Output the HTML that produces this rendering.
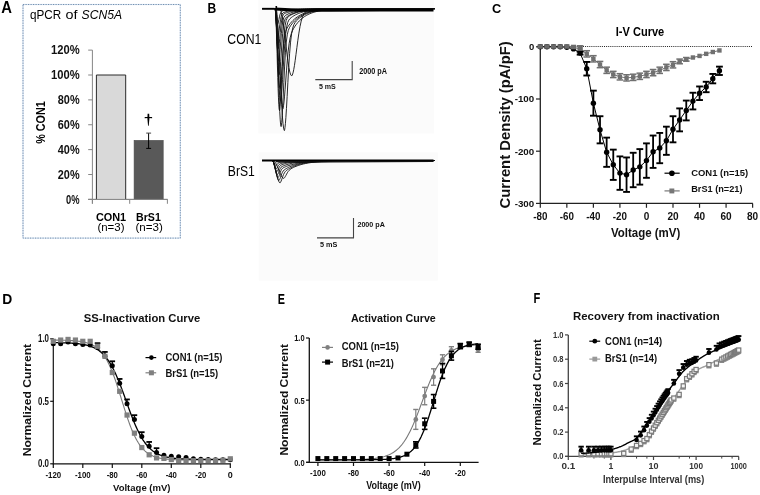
<!DOCTYPE html>
<html><head><meta charset="utf-8"><title>Figure</title>
<style>
html,body{margin:0;padding:0;background:#fff;}
body{width:760px;height:495px;overflow:hidden;font-family:"Liberation Sans",sans-serif;}
svg{display:block;will-change:transform;}
</style></head><body>
<svg width="760" height="495" viewBox="0 0 760 495">
<rect x="0" y="0" width="760" height="495" fill="#fff"/>
<text x="1.2" y="12.6" font-family="Liberation Sans" font-size="15.84" font-weight="bold" font-style="normal" fill="#000" textLength="10.7" lengthAdjust="spacingAndGlyphs" >A</text>
<rect x="23" y="4.5" width="157.3" height="233.6" fill="none" stroke="#d2e2f2" stroke-width="1.2"/>
<rect x="23" y="4.5" width="157.3" height="233.6" fill="none" stroke="#7890ad" stroke-width="1" stroke-dasharray="1.2 1.3"/>
<text x="30" y="19.2" font-family="Liberation Sans" font-size="12.06" font-weight="normal" font-style="normal" fill="#000" textLength="31.2" lengthAdjust="spacingAndGlyphs" >qPCR</text>
<text x="65.6" y="19.2" font-family="Liberation Sans" font-size="12.5" font-weight="normal" font-style="normal" fill="#000" textLength="12" lengthAdjust="spacingAndGlyphs" >of</text>
<text x="81.6" y="19.2" font-family="Liberation Sans" font-size="12.06" font-weight="normal" font-style="italic" fill="#000" textLength="40.5" lengthAdjust="spacingAndGlyphs" >SCN5A</text>
<line x1="92.4" y1="50.1" x2="92.4" y2="203.6" stroke="#868686" stroke-width="1" />
<line x1="88.2" y1="199.4" x2="92.4" y2="199.4" stroke="#868686" stroke-width="1" />
<text x="66.1" y="203.5" font-family="Liberation Sans" font-size="11.92" font-weight="bold" font-style="normal" fill="#111" textLength="13.5" lengthAdjust="spacingAndGlyphs" >0%</text>
<line x1="88.2" y1="174.52" x2="92.4" y2="174.52" stroke="#868686" stroke-width="1" />
<text x="57.8" y="178.62" font-family="Liberation Sans" font-size="11.92" font-weight="bold" font-style="normal" fill="#111" textLength="21.8" lengthAdjust="spacingAndGlyphs" >20%</text>
<line x1="88.2" y1="149.64" x2="92.4" y2="149.64" stroke="#868686" stroke-width="1" />
<text x="57.8" y="153.74" font-family="Liberation Sans" font-size="11.92" font-weight="bold" font-style="normal" fill="#111" textLength="21.8" lengthAdjust="spacingAndGlyphs" >40%</text>
<line x1="88.2" y1="124.76" x2="92.4" y2="124.76" stroke="#868686" stroke-width="1" />
<text x="57.8" y="128.86" font-family="Liberation Sans" font-size="11.92" font-weight="bold" font-style="normal" fill="#111" textLength="21.8" lengthAdjust="spacingAndGlyphs" >60%</text>
<line x1="88.2" y1="99.88" x2="92.4" y2="99.88" stroke="#868686" stroke-width="1" />
<text x="57.8" y="103.98" font-family="Liberation Sans" font-size="11.92" font-weight="bold" font-style="normal" fill="#111" textLength="21.8" lengthAdjust="spacingAndGlyphs" >80%</text>
<line x1="88.2" y1="75" x2="92.4" y2="75" stroke="#868686" stroke-width="1" />
<text x="51" y="79.1" font-family="Liberation Sans" font-size="11.92" font-weight="bold" font-style="normal" fill="#111" textLength="28.6" lengthAdjust="spacingAndGlyphs" >100%</text>
<line x1="88.2" y1="50.12" x2="92.4" y2="50.12" stroke="#868686" stroke-width="1" />
<text x="51" y="54.22" font-family="Liberation Sans" font-size="11.92" font-weight="bold" font-style="normal" fill="#111" textLength="28.6" lengthAdjust="spacingAndGlyphs" >120%</text>
<line x1="88.2" y1="199.4" x2="167.6" y2="199.4" stroke="#868686" stroke-width="1" />
<line x1="92.4" y1="199.4" x2="92.4" y2="203.8" stroke="#868686" stroke-width="1" />
<line x1="129.7" y1="199.4" x2="129.7" y2="203.8" stroke="#868686" stroke-width="1" />
<line x1="167.4" y1="199.4" x2="167.4" y2="203.8" stroke="#868686" stroke-width="1" />
<rect x="96.4" y="75" width="29.3" height="124.4" fill="#d9d9d9" stroke="none" stroke-width="1" />
<path d="M96.4 199.4 L96.4 75 L125.7 75 L125.7 199.4" stroke="#2a2a2a" stroke-width="1" fill="none" />
<rect x="134.1" y="140.4" width="29.1" height="59" fill="#595959" stroke="#4a4a4a" stroke-width="0.6" />
<line x1="88.2" y1="199.4" x2="167.6" y2="199.4" stroke="#868686" stroke-width="1" />
<line x1="148.6" y1="133.1" x2="148.6" y2="148.4" stroke="#000" stroke-width="1" />
<line x1="146.2" y1="133.1" x2="151.1" y2="133.1" stroke="#444" stroke-width="1" />
<line x1="146.2" y1="148.4" x2="151.1" y2="148.4" stroke="#000" stroke-width="1" />
<path d="M147.6 113.8 L149.2 113.8 L149.4 118.5 L148.75 125.8 L148.05 125.8 L147.4 118.5 Z" stroke="none" stroke-width="0" fill="#000" />
<path d="M144.7 116.9 Q148.4 117.3 152.1 116.9 L152.1 118.2 Q148.4 117.9 144.7 118.2 Z" stroke="none" stroke-width="0" fill="#000" />
<text transform="translate(45.3 143.7) rotate(-90)" x="0" y="0" font-family="Liberation Sans" font-size="11.92" font-weight="bold" fill="#000" textLength="42.4" lengthAdjust="spacingAndGlyphs">% CON1</text>
<text x="95.9" y="220.6" font-family="Liberation Sans" font-size="10.61" font-weight="bold" font-style="normal" fill="#000" textLength="30.3" lengthAdjust="spacingAndGlyphs" >CON1</text>
<text x="97.4" y="231.3" font-family="Liberation Sans" font-size="10.17" font-weight="normal" font-style="normal" fill="#000" textLength="27.1" lengthAdjust="spacingAndGlyphs" >(n=3)</text>
<text x="136.1" y="220.6" font-family="Liberation Sans" font-size="10.61" font-weight="bold" font-style="normal" fill="#000" textLength="24.7" lengthAdjust="spacingAndGlyphs" >BrS1</text>
<text x="135.4" y="231.3" font-family="Liberation Sans" font-size="10.17" font-weight="normal" font-style="normal" fill="#000" textLength="27.4" lengthAdjust="spacingAndGlyphs" >(n=3)</text>
<rect x="258.3" y="0" width="175.5" height="133.5" fill="#fbfbfb" stroke="none" stroke-width="1" />
<rect x="258.8" y="152.3" width="179" height="128.3" fill="#fbfbfb" stroke="none" stroke-width="1" />
<text x="207.5" y="12.6" font-family="Liberation Sans" font-size="15.41" font-weight="bold" font-style="normal" fill="#000" textLength="8.7" lengthAdjust="spacingAndGlyphs" >B</text>
<text x="227.3" y="43.9" font-family="Liberation Sans" font-size="13.95" font-weight="normal" font-style="normal" fill="#000" textLength="34" lengthAdjust="spacingAndGlyphs" >CON1</text>
<text x="227.8" y="175.9" font-family="Liberation Sans" font-size="14.1" font-weight="normal" font-style="normal" fill="#000" textLength="27" lengthAdjust="spacingAndGlyphs" >BrS1</text>
<path d="M262 8.6 L275.3 8.6 L276 10.37 L276.7 15.59 L277.4 23.94 L278.1 34.95 L278.8 47.97 L279.5 62.25 L280.2 76.95 L280.9 91.23 L281.6 104.25 L282.3 115.26 L283 123.61 L283.7 128.83 L284.4 130.6 L284.48 130.35 L284.69 129.46 L284.99 127.47 L285.4 123.72 L285.89 117.54 L286.46 108.49 L287.13 96.58 L287.87 82.51 L288.68 67.66 L289.58 53.73 L290.55 42.16 L291.59 33.68 L292.7 28.1 L293.89 24.63 L295.14 22.4 L296.47 20.76 L297.86 19.38 L299.32 18.14 L300.84 17 L302.43 15.96 L304.09 15.01 L305.81 14.15 L307.59 13.39 L309.44 12.7 L311.35 12.1 L313.32 11.57 L315.35 11.11 L317.45 10.71 L319.6 10.36 L321.82 10.06 L324.09 9.81 L326.42 9.6 L328.82 9.42 L331.27 9.27 L333.78 9.14 L336.35 9.04 L338.98 8.95 L341.66 8.88 L344.4 8.82 L435 8.6" stroke="#111" stroke-width="0.9" fill="none" />
<path d="M262 8.6 L275.3 8.6 L275.75 10.31 L276.19 15.36 L276.64 23.44 L277.08 34.08 L277.53 46.68 L277.98 60.49 L278.42 74.71 L278.87 88.52 L279.32 101.12 L279.76 111.76 L280.21 119.84 L280.65 124.89 L281.1 126.6 L281.18 126.3 L281.39 125.18 L281.69 122.51 L282.1 117.36 L282.59 108.94 L283.16 97.03 L283.83 82.42 L284.57 66.94 L285.38 52.9 L286.28 42.05 L287.25 34.82 L288.29 30.45 L289.4 27.73 L290.59 25.72 L291.84 23.98 L293.17 22.37 L294.56 20.86 L296.02 19.46 L297.54 18.16 L299.13 16.98 L300.79 15.9 L302.51 14.92 L304.29 14.05 L306.14 13.27 L308.05 12.58 L310.02 11.98 L312.05 11.45 L314.15 11 L316.3 10.6 L318.52 10.27 L320.79 9.98 L323.12 9.73 L325.52 9.53 L327.97 9.36 L330.48 9.21 L333.05 9.1 L335.68 9 L338.36 8.92 L341.1 8.85 L435 8.6" stroke="#111" stroke-width="0.9" fill="none" />
<path d="M262 8.6 L275 8.6 L275.35 10.08 L275.69 14.44 L276.04 21.43 L276.38 30.63 L276.73 41.52 L277.08 53.45 L277.42 65.75 L277.77 77.68 L278.12 88.57 L278.46 97.77 L278.81 104.76 L279.15 109.12 L279.5 110.6 L279.58 110.3 L279.79 109.15 L280.09 106.33 L280.5 100.87 L280.99 92.06 L281.56 80.09 L282.23 66.35 L282.97 53.15 L283.78 42.61 L284.68 35.58 L285.65 31.4 L286.69 28.81 L287.8 26.86 L288.99 25.12 L290.24 23.47 L291.57 21.92 L292.96 20.46 L294.42 19.1 L295.94 17.85 L297.53 16.7 L299.19 15.66 L300.91 14.72 L302.69 13.87 L304.54 13.12 L306.45 12.45 L308.42 11.87 L310.45 11.36 L312.55 10.92 L314.7 10.54 L316.92 10.21 L319.19 9.93 L321.52 9.7 L323.92 9.5 L326.37 9.33 L328.88 9.19 L331.45 9.08 L334.08 8.99 L336.76 8.91 L339.5 8.85 L435 8.6" stroke="#111" stroke-width="0.9" fill="none" />
<path d="M262 8.6 L279.5 8.6 L280.44 9.58 L281.38 12.45 L282.32 17.06 L283.25 23.13 L284.19 30.32 L285.13 38.19 L286.07 46.31 L287.01 54.18 L287.95 61.37 L288.88 67.44 L289.82 72.05 L290.76 74.92 L291.7 75.9 L291.78 75.83 L291.99 75.58 L292.29 75.01 L292.7 73.95 L293.19 72.18 L293.76 69.46 L294.43 65.65 L295.17 60.66 L295.98 54.59 L296.88 47.67 L297.85 40.34 L298.89 33.14 L300 26.6 L301.19 21.14 L302.44 16.95 L303.77 14.03 L305.16 12.15 L306.62 11.03 L308.14 10.38 L309.73 10 L311.39 9.74 L313.11 9.55 L314.89 9.39 L316.74 9.26 L318.65 9.14 L320.62 9.04 L322.65 8.96 L324.75 8.89 L326.9 8.84 L329.12 8.79 L331.39 8.75 L333.72 8.72 L336.12 8.69 L338.57 8.67 L341.08 8.66 L343.65 8.64 L346.28 8.63 L348.96 8.63 L351.7 8.62 L435 8.6" stroke="#111" stroke-width="0.9" fill="none" />
<path d="M262 8.6 L275 8.6 L275.42 9.94 L275.85 13.87 L276.27 20.17 L276.69 28.47 L277.12 38.29 L277.54 49.06 L277.96 60.14 L278.38 70.91 L278.81 80.73 L279.23 89.03 L279.65 95.33 L280.08 99.26 L280.5 100.6 L280.58 100.42 L280.79 99.69 L281.09 97.86 L281.5 94.21 L281.99 88.09 L282.56 79.21 L283.23 67.96 L283.97 55.52 L284.78 43.59 L285.68 33.76 L286.65 26.83 L287.69 22.58 L288.8 20.15 L289.99 18.67 L291.24 17.57 L292.57 16.61 L293.96 15.73 L295.42 14.92 L296.94 14.16 L298.53 13.47 L300.19 12.84 L301.91 12.28 L303.69 11.77 L305.54 11.32 L307.45 10.92 L309.42 10.57 L311.45 10.26 L313.55 9.99 L315.7 9.77 L317.92 9.57 L320.19 9.4 L322.52 9.26 L324.92 9.14 L327.37 9.04 L329.88 8.96 L332.45 8.89 L335.08 8.83 L337.76 8.79 L340.5 8.75 L435 8.6" stroke="#111" stroke-width="0.9" fill="none" />
<path d="M262 8.6 L275 8.6 L275.38 9.76 L275.77 13.18 L276.15 18.66 L276.54 25.88 L276.92 34.42 L277.31 43.78 L277.69 53.42 L278.08 62.78 L278.46 71.32 L278.85 78.54 L279.23 84.02 L279.62 87.44 L280 88.6 L280.08 88.45 L280.29 87.77 L280.59 85.91 L281 82.07 L281.49 75.58 L282.06 66.32 L282.73 54.99 L283.47 43.2 L284.28 32.84 L285.18 25.24 L286.15 20.57 L287.19 18.08 L288.3 16.73 L289.49 15.85 L290.74 15.11 L292.07 14.42 L293.46 13.79 L294.92 13.19 L296.44 12.64 L298.03 12.14 L299.69 11.69 L301.41 11.27 L303.19 10.9 L305.04 10.58 L306.95 10.29 L308.92 10.03 L310.95 9.81 L313.05 9.61 L315.2 9.45 L317.42 9.3 L319.69 9.18 L322.02 9.08 L324.42 8.99 L326.87 8.92 L329.38 8.86 L331.95 8.81 L334.58 8.77 L337.26 8.73 L340 8.71 L435 8.6" stroke="#111" stroke-width="0.9" fill="none" />
<path d="M262 8.6 L275 8.6 L275.32 9.56 L275.65 12.38 L275.97 16.9 L276.29 22.85 L276.62 29.9 L276.94 37.62 L277.26 45.58 L277.58 53.3 L277.91 60.35 L278.23 66.3 L278.55 70.82 L278.88 73.64 L279.2 74.6 L279.28 74.46 L279.49 73.78 L279.79 71.92 L280.2 68.1 L280.69 61.77 L281.26 53.05 L281.93 43.01 L282.67 33.42 L283.48 25.91 L284.38 21.12 L285.35 18.53 L286.39 17.17 L287.5 16.29 L288.69 15.55 L289.94 14.85 L291.27 14.2 L292.66 13.59 L294.12 13.02 L295.64 12.49 L297.23 12.01 L298.89 11.57 L300.61 11.17 L302.39 10.82 L304.24 10.5 L306.15 10.22 L308.12 9.98 L310.15 9.76 L312.25 9.58 L314.4 9.41 L316.62 9.28 L318.89 9.16 L321.22 9.06 L323.62 8.98 L326.07 8.91 L328.58 8.85 L331.15 8.8 L333.78 8.76 L336.46 8.73 L339.2 8.7 L435 8.6" stroke="#111" stroke-width="0.9" fill="none" />
<path d="M262 8.6 L275 8.6 L275.28 9.36 L275.55 11.58 L275.83 15.14 L276.11 19.83 L276.38 25.38 L276.66 31.47 L276.94 37.73 L277.22 43.82 L277.49 49.37 L277.77 54.06 L278.05 57.62 L278.32 59.84 L278.6 60.6 L278.68 60.48 L278.89 59.9 L279.19 58.27 L279.6 54.89 L280.09 49.36 L280.66 41.9 L281.33 33.64 L282.07 26.18 L282.88 20.79 L283.78 17.64 L284.75 16.06 L285.79 15.2 L286.9 14.57 L288.09 14 L289.34 13.46 L290.67 12.96 L292.06 12.48 L293.52 12.03 L295.04 11.63 L296.63 11.25 L298.29 10.91 L300.01 10.6 L301.79 10.32 L303.64 10.08 L305.55 9.86 L307.52 9.67 L309.55 9.5 L311.65 9.36 L313.8 9.23 L316.02 9.13 L318.29 9.04 L320.62 8.96 L323.02 8.89 L325.47 8.84 L327.98 8.79 L330.55 8.76 L333.18 8.73 L335.86 8.7 L338.6 8.68 L435 8.6" stroke="#111" stroke-width="0.9" fill="none" />
<path d="M262 8.6 L275 8.6 L275.25 9.18 L275.49 10.89 L275.74 13.63 L275.98 17.24 L276.23 21.51 L276.48 26.19 L276.72 31.01 L276.97 35.69 L277.22 39.96 L277.46 43.57 L277.71 46.31 L277.95 48.02 L278.2 48.6 L278.28 48.51 L278.49 48.02 L278.79 46.59 L279.2 43.62 L279.69 38.78 L280.26 32.45 L280.93 25.77 L281.67 20.17 L282.48 16.49 L283.38 14.58 L284.35 13.68 L285.39 13.16 L286.5 12.75 L287.69 12.35 L288.94 11.98 L290.27 11.63 L291.66 11.3 L293.12 10.99 L294.64 10.7 L296.23 10.44 L297.89 10.2 L299.61 9.99 L301.39 9.8 L303.24 9.63 L305.15 9.48 L307.12 9.34 L309.15 9.23 L311.25 9.13 L313.4 9.04 L315.62 8.97 L317.89 8.9 L320.22 8.85 L322.62 8.8 L325.07 8.77 L327.58 8.74 L330.15 8.71 L332.78 8.69 L335.46 8.67 L338.2 8.66 L435 8.6" stroke="#111" stroke-width="0.9" fill="none" />
<path d="M262 8.6 L275 8.6 L275.22 9.01 L275.43 10.2 L275.65 12.12 L275.86 14.65 L276.08 17.64 L276.29 20.91 L276.51 24.29 L276.72 27.56 L276.94 30.55 L277.15 33.08 L277.37 35 L277.58 36.19 L277.8 36.6 L277.88 36.52 L278.09 36.11 L278.39 34.95 L278.8 32.62 L279.29 28.94 L279.86 24.31 L280.53 19.71 L281.27 16.16 L282.08 14.03 L282.98 12.97 L283.95 12.41 L284.99 12.01 L286.1 11.65 L287.29 11.31 L288.54 10.99 L289.87 10.69 L291.26 10.42 L292.72 10.17 L294.24 9.95 L295.83 9.75 L297.49 9.58 L299.21 9.42 L300.99 9.29 L302.84 9.17 L304.75 9.07 L306.72 8.99 L308.75 8.92 L310.85 8.86 L313 8.81 L315.22 8.77 L317.49 8.73 L319.82 8.7 L322.22 8.68 L324.67 8.66 L327.18 8.65 L329.75 8.64 L332.38 8.63 L335.06 8.62 L337.8 8.62 L435 8.6" stroke="#111" stroke-width="0.9" fill="none" />
<path d="M262 8.6 L275 8.6 L275.18 8.83 L275.37 9.52 L275.55 10.61 L275.74 12.06 L275.92 13.76 L276.11 15.64 L276.29 17.56 L276.48 19.44 L276.66 21.14 L276.85 22.59 L277.03 23.68 L277.22 24.37 L277.4 24.6 L277.48 24.55 L277.69 24.27 L277.99 23.5 L278.4 21.96 L278.89 19.59 L279.46 16.75 L280.13 14.14 L280.87 12.32 L281.68 11.36 L282.58 10.9 L283.55 10.63 L284.59 10.4 L285.7 10.19 L286.89 9.99 L288.14 9.81 L289.47 9.65 L290.86 9.5 L292.32 9.36 L293.84 9.24 L295.43 9.14 L297.09 9.05 L298.81 8.97 L300.59 8.9 L302.44 8.85 L304.35 8.8 L306.32 8.76 L308.35 8.73 L310.45 8.7 L312.6 8.68 L314.82 8.66 L317.09 8.65 L319.42 8.64 L321.82 8.63 L324.27 8.62 L326.78 8.62 L329.35 8.61 L331.98 8.61 L334.66 8.61 L337.4 8.61 L435 8.6" stroke="#111" stroke-width="0.9" fill="none" />
<path d="M262 8.6 L276 8.6 L276.54 10.05 L277.08 14.33 L277.62 21.17 L278.15 30.2 L278.69 40.87 L279.23 52.57 L279.77 64.63 L280.31 76.33 L280.85 87 L281.38 96.03 L281.92 102.87 L282.46 107.15 L283 108.6 L283.08 108.25 L283.29 107.23 L283.59 105.26 L284 101.94 L284.49 96.88 L285.06 89.84 L285.73 80.96 L286.47 70.85 L287.28 60.52 L288.18 51.1 L289.15 43.41 L290.19 37.69 L291.3 33.62 L292.49 30.64 L293.74 28.24 L295.07 26.13 L296.46 24.2 L297.92 22.42 L299.44 20.77 L301.03 19.26 L302.69 17.88 L304.41 16.64 L306.19 15.53 L308.04 14.54 L309.95 13.67 L311.92 12.9 L313.95 12.23 L316.05 11.65 L318.2 11.15 L320.42 10.72 L322.69 10.35 L325.02 10.04 L327.42 9.78 L329.87 9.56 L332.38 9.38 L334.95 9.23 L337.58 9.11 L340.26 9.01 L343 8.92 L435 8.6" stroke="#111" stroke-width="0.9" fill="none" />
<path d="M262.2 8.6 L274.5 8.6" stroke="#000" stroke-width="1.5" fill="none" />
<path d="M275 8.9 L300 10.2 L330 10.2 L380 10.1 L433.5 10.1" stroke="#000" stroke-width="3" fill="none" />
<path d="M275.5 6.5 L276.5 6.5 L276.5 10" stroke="#000" stroke-width="1.2" fill="none" />
<path d="M315.3 79.6 L352.2 79.6 L352.2 61" stroke="#444" stroke-width="1.1" fill="none" />
<text x="359.2" y="73.6" font-family="Liberation Sans" font-size="8.14" font-weight="bold" font-style="normal" fill="#111" textLength="27.8" lengthAdjust="spacingAndGlyphs" >2000 pA</text>
<text x="318.9" y="88.8" font-family="Liberation Sans" font-size="7.85" font-weight="bold" font-style="normal" fill="#111" textLength="16.9" lengthAdjust="spacingAndGlyphs" >5 mS</text>
<path d="M262 160.5 L272.2 160.5 L272.81 160.83 L273.42 161.78 L274.02 163.32 L274.63 165.34 L275.24 167.73 L275.85 170.35 L276.45 173.05 L277.06 175.67 L277.67 178.06 L278.28 180.08 L278.88 181.62 L279.49 182.57 L280.1 182.9 L280.18 182.8 L280.39 182.52 L280.69 181.98 L281.1 181.11 L281.59 179.83 L282.16 178.19 L282.83 176.31 L283.57 174.47 L284.38 172.87 L285.28 171.61 L286.25 170.64 L287.29 169.83 L288.4 169.09 L289.59 168.38 L290.84 167.7 L292.17 167.04 L293.56 166.41 L295.02 165.82 L296.54 165.26 L298.13 164.74 L299.79 164.26 L301.51 163.82 L303.29 163.42 L305.14 163.05 L307.05 162.72 L309.02 162.43 L311.05 162.16 L313.15 161.93 L315.3 161.72 L317.52 161.54 L319.79 161.38 L322.12 161.25 L324.52 161.13 L326.97 161.03 L329.48 160.94 L332.05 160.86 L334.68 160.8 L337.36 160.75 L340.1 160.7 L435 160.5" stroke="#111" stroke-width="0.9" fill="none" />
<path d="M262 160.5 L273 160.5 L273.84 160.76 L274.68 161.53 L275.52 162.75 L276.35 164.37 L277.19 166.28 L278.03 168.37 L278.87 170.53 L279.71 172.62 L280.55 174.53 L281.38 176.15 L282.22 177.37 L283.06 178.14 L283.9 178.4 L283.98 178.32 L284.19 178.11 L284.49 177.74 L284.9 177.16 L285.39 176.35 L285.96 175.3 L286.63 174.07 L287.37 172.75 L288.18 171.49 L289.08 170.39 L290.05 169.49 L291.09 168.74 L292.2 168.09 L293.39 167.48 L294.64 166.9 L295.97 166.34 L297.36 165.81 L298.82 165.3 L300.34 164.82 L301.93 164.37 L303.59 163.95 L305.31 163.57 L307.09 163.21 L308.94 162.89 L310.85 162.59 L312.82 162.33 L314.85 162.09 L316.95 161.87 L319.1 161.68 L321.32 161.52 L323.59 161.37 L325.92 161.24 L328.32 161.13 L330.77 161.03 L333.28 160.95 L335.85 160.87 L338.48 160.81 L341.16 160.76 L343.9 160.71 L435 160.5" stroke="#111" stroke-width="0.9" fill="none" />
<path d="M262 160.5 L272.2 160.5 L272.72 160.79 L273.25 161.65 L273.77 163.01 L274.29 164.82 L274.82 166.95 L275.34 169.29 L275.86 171.71 L276.38 174.05 L276.91 176.18 L277.43 177.99 L277.95 179.35 L278.48 180.21 L279 180.5 L279.08 180.41 L279.29 180.15 L279.59 179.61 L280 178.69 L280.49 177.33 L281.06 175.63 L281.73 173.81 L282.47 172.18 L283.28 170.92 L284.18 169.99 L285.15 169.26 L286.19 168.61 L287.3 167.98 L288.49 167.37 L289.74 166.78 L291.07 166.21 L292.46 165.66 L293.92 165.15 L295.44 164.67 L297.03 164.22 L298.69 163.8 L300.41 163.41 L302.19 163.06 L304.04 162.75 L305.95 162.46 L307.92 162.2 L309.95 161.97 L312.05 161.76 L314.2 161.58 L316.42 161.42 L318.69 161.28 L321.02 161.16 L323.42 161.06 L325.87 160.97 L328.38 160.89 L330.95 160.82 L333.58 160.77 L336.26 160.72 L339 160.68 L435 160.5" stroke="#111" stroke-width="0.9" fill="none" />
<path d="M262 160.5 L272.2 160.5 L272.66 160.75 L273.12 161.47 L273.58 162.64 L274.05 164.17 L274.51 165.99 L274.97 167.98 L275.43 170.02 L275.89 172.01 L276.35 173.83 L276.82 175.36 L277.28 176.53 L277.74 177.25 L278.2 177.5 L278.28 177.44 L278.49 177.2 L278.79 176.67 L279.2 175.68 L279.69 174.21 L280.26 172.43 L280.93 170.68 L281.67 169.3 L282.48 168.38 L283.38 167.76 L284.35 167.28 L285.39 166.82 L286.5 166.36 L287.69 165.92 L288.94 165.48 L290.27 165.06 L291.66 164.66 L293.12 164.27 L294.64 163.91 L296.23 163.57 L297.89 163.24 L299.61 162.95 L301.39 162.67 L303.24 162.42 L305.15 162.19 L307.12 161.98 L309.15 161.8 L311.25 161.63 L313.4 161.48 L315.62 161.34 L317.89 161.22 L320.22 161.12 L322.62 161.03 L325.07 160.95 L327.58 160.88 L330.15 160.82 L332.78 160.77 L335.46 160.72 L338.2 160.69 L435 160.5" stroke="#111" stroke-width="0.9" fill="none" />
<path d="M262 160.5 L272.2 160.5 L272.62 160.7 L273.03 161.3 L273.45 162.26 L273.86 163.52 L274.28 165.02 L274.69 166.66 L275.11 168.34 L275.52 169.98 L275.94 171.48 L276.35 172.74 L276.77 173.7 L277.18 174.3 L277.6 174.5 L277.68 174.44 L277.89 174.21 L278.19 173.7 L278.6 172.75 L279.09 171.38 L279.66 169.8 L280.33 168.35 L281.07 167.3 L281.88 166.63 L282.78 166.15 L283.75 165.74 L284.79 165.33 L285.9 164.93 L287.09 164.55 L288.34 164.18 L289.67 163.82 L291.06 163.48 L292.52 163.17 L294.04 162.87 L295.63 162.6 L297.29 162.35 L299.01 162.12 L300.79 161.91 L302.64 161.72 L304.55 161.56 L306.52 161.41 L308.55 161.28 L310.65 161.16 L312.8 161.06 L315.02 160.97 L317.29 160.9 L319.62 160.83 L322.02 160.78 L324.47 160.73 L326.98 160.69 L329.55 160.65 L332.18 160.63 L334.86 160.6 L337.6 160.58 L435 160.5" stroke="#111" stroke-width="0.9" fill="none" />
<path d="M262 160.5 L272.2 160.5 L272.57 160.66 L272.94 161.13 L273.31 161.88 L273.68 162.88 L274.05 164.05 L274.42 165.34 L274.78 166.66 L275.15 167.95 L275.52 169.12 L275.89 170.12 L276.26 170.87 L276.63 171.34 L277 171.5 L277.08 171.44 L277.29 171.24 L277.59 170.78 L278 169.96 L278.49 168.8 L279.06 167.49 L279.73 166.34 L280.47 165.53 L281.28 165.02 L282.18 164.63 L283.15 164.27 L284.19 163.93 L285.3 163.6 L286.49 163.29 L287.74 162.98 L289.07 162.7 L290.46 162.44 L291.92 162.2 L293.44 161.98 L295.03 161.78 L296.69 161.6 L298.41 161.44 L300.19 161.3 L302.04 161.18 L303.95 161.07 L305.92 160.98 L307.95 160.9 L310.05 160.83 L312.2 160.77 L314.42 160.72 L316.69 160.68 L319.02 160.64 L321.42 160.62 L323.87 160.59 L326.38 160.57 L328.95 160.56 L331.58 160.55 L334.26 160.54 L337 160.53 L435 160.5" stroke="#111" stroke-width="0.9" fill="none" />
<path d="M262 160.5 L272.2 160.5 L272.53 160.62 L272.86 160.96 L273.19 161.51 L273.52 162.23 L273.85 163.08 L274.18 164.02 L274.52 164.98 L274.85 165.92 L275.18 166.77 L275.51 167.49 L275.84 168.04 L276.17 168.38 L276.5 168.5 L276.58 168.45 L276.79 168.29 L277.09 167.89 L277.5 167.2 L277.99 166.25 L278.56 165.26 L279.23 164.48 L279.97 163.97 L280.78 163.64 L281.68 163.36 L282.65 163.1 L283.69 162.84 L284.8 162.59 L285.99 162.36 L287.24 162.14 L288.57 161.94 L289.96 161.75 L291.42 161.58 L292.94 161.43 L294.53 161.29 L296.19 161.17 L297.91 161.06 L299.69 160.97 L301.54 160.89 L303.45 160.82 L305.42 160.77 L307.45 160.72 L309.55 160.68 L311.7 160.64 L313.92 160.61 L316.19 160.59 L318.52 160.57 L320.92 160.56 L323.37 160.54 L325.88 160.53 L328.45 160.53 L331.08 160.52 L333.76 160.52 L336.5 160.51 L435 160.5" stroke="#111" stroke-width="0.9" fill="none" />
<path d="M262 160.5 L272.2 160.5 L272.49 160.57 L272.78 160.79 L273.08 161.13 L273.37 161.58 L273.66 162.11 L273.95 162.7 L274.25 163.3 L274.54 163.89 L274.83 164.42 L275.12 164.87 L275.42 165.21 L275.71 165.43 L276 165.5 L276.08 165.47 L276.29 165.34 L276.59 165.05 L277 164.54 L277.49 163.89 L278.06 163.26 L278.73 162.83 L279.47 162.56 L280.28 162.37 L281.18 162.19 L282.15 162.02 L283.19 161.85 L284.3 161.69 L285.49 161.55 L286.74 161.41 L288.07 161.28 L289.46 161.17 L290.92 161.07 L292.44 160.98 L294.03 160.9 L295.69 160.84 L297.41 160.78 L299.19 160.73 L301.04 160.69 L302.95 160.65 L304.92 160.62 L306.95 160.6 L309.05 160.58 L311.2 160.56 L313.42 160.55 L315.69 160.54 L318.02 160.53 L320.42 160.52 L322.87 160.52 L325.38 160.51 L327.95 160.51 L330.58 160.51 L333.26 160.51 L336 160.5 L435 160.5" stroke="#111" stroke-width="0.9" fill="none" />
<path d="M262 160.5 L433.5 160.5" stroke="#000" stroke-width="2.2" fill="none" />
<path d="M276 161.6 L300 162.4 L330 161.8 L433.5 161.4" stroke="#111" stroke-width="1.2" fill="none" />
<path d="M317 237.9 L353.5 237.9 L353.5 218" stroke="#444" stroke-width="1.1" fill="none" />
<text x="357.4" y="226.7" font-family="Liberation Sans" font-size="7.7" font-weight="bold" font-style="normal" fill="#111" textLength="27.5" lengthAdjust="spacingAndGlyphs" >2000 pA</text>
<text x="320" y="247.3" font-family="Liberation Sans" font-size="7.56" font-weight="bold" font-style="normal" fill="#111" textLength="17.3" lengthAdjust="spacingAndGlyphs" >5 mS</text>
<text x="492" y="12.6" font-family="Liberation Sans" font-size="13.66" font-weight="bold" font-style="normal" fill="#000" textLength="9.2" lengthAdjust="spacingAndGlyphs" >C</text>
<text x="615.8" y="35.8" font-family="Liberation Sans" font-size="12.21" font-weight="bold" font-style="normal" fill="#000" textLength="48.4" lengthAdjust="spacingAndGlyphs" >I-V Curve</text>
<line x1="541" y1="46.5" x2="752.6" y2="46.5" stroke="#222" stroke-width="1" stroke-dasharray="1 1.1"/>
<line x1="540.3" y1="46.8" x2="540.3" y2="204" stroke="#222" stroke-width="1.3" />
<line x1="540.3" y1="203.4" x2="752.9" y2="203.4" stroke="#222" stroke-width="1.3" />
<line x1="536" y1="46.8" x2="540.3" y2="46.8" stroke="#222" stroke-width="1.2" />
<text x="528.9" y="50.2" font-family="Liberation Sans" font-size="9.88" font-weight="bold" font-style="normal" fill="#111" textLength="5.3" lengthAdjust="spacingAndGlyphs" >0</text>
<line x1="536" y1="99" x2="540.3" y2="99" stroke="#222" stroke-width="1.2" />
<text x="514.7" y="102.4" font-family="Liberation Sans" font-size="9.88" font-weight="bold" font-style="normal" fill="#111" textLength="19.5" lengthAdjust="spacingAndGlyphs" >-100</text>
<line x1="536" y1="151.2" x2="540.3" y2="151.2" stroke="#222" stroke-width="1.2" />
<text x="514.7" y="154.6" font-family="Liberation Sans" font-size="9.88" font-weight="bold" font-style="normal" fill="#111" textLength="19.5" lengthAdjust="spacingAndGlyphs" >-200</text>
<line x1="536" y1="203.4" x2="540.3" y2="203.4" stroke="#222" stroke-width="1.2" />
<text x="514.7" y="206.8" font-family="Liberation Sans" font-size="9.88" font-weight="bold" font-style="normal" fill="#111" textLength="19.5" lengthAdjust="spacingAndGlyphs" >-300</text>
<line x1="540.3" y1="203.4" x2="540.3" y2="207.8" stroke="#222" stroke-width="1.2" />
<text x="533.2" y="220.2" font-family="Liberation Sans" font-size="10.32" font-weight="bold" font-style="normal" fill="#111" textLength="14.2" lengthAdjust="spacingAndGlyphs" >-80</text>
<line x1="566.84" y1="203.4" x2="566.84" y2="207.8" stroke="#222" stroke-width="1.2" />
<text x="559.74" y="220.2" font-family="Liberation Sans" font-size="10.32" font-weight="bold" font-style="normal" fill="#111" textLength="14.2" lengthAdjust="spacingAndGlyphs" >-60</text>
<line x1="593.38" y1="203.4" x2="593.38" y2="207.8" stroke="#222" stroke-width="1.2" />
<text x="586.28" y="220.2" font-family="Liberation Sans" font-size="10.32" font-weight="bold" font-style="normal" fill="#111" textLength="14.2" lengthAdjust="spacingAndGlyphs" >-40</text>
<line x1="619.92" y1="203.4" x2="619.92" y2="207.8" stroke="#222" stroke-width="1.2" />
<text x="612.82" y="220.2" font-family="Liberation Sans" font-size="10.32" font-weight="bold" font-style="normal" fill="#111" textLength="14.2" lengthAdjust="spacingAndGlyphs" >-20</text>
<line x1="646.46" y1="203.4" x2="646.46" y2="207.8" stroke="#222" stroke-width="1.2" />
<text x="643.66" y="220.2" font-family="Liberation Sans" font-size="10.32" font-weight="bold" font-style="normal" fill="#111" textLength="5.6" lengthAdjust="spacingAndGlyphs" >0</text>
<line x1="673" y1="203.4" x2="673" y2="207.8" stroke="#222" stroke-width="1.2" />
<text x="667.4" y="220.2" font-family="Liberation Sans" font-size="10.32" font-weight="bold" font-style="normal" fill="#111" textLength="11.2" lengthAdjust="spacingAndGlyphs" >20</text>
<line x1="699.54" y1="203.4" x2="699.54" y2="207.8" stroke="#222" stroke-width="1.2" />
<text x="693.94" y="220.2" font-family="Liberation Sans" font-size="10.32" font-weight="bold" font-style="normal" fill="#111" textLength="11.2" lengthAdjust="spacingAndGlyphs" >40</text>
<line x1="726.08" y1="203.4" x2="726.08" y2="207.8" stroke="#222" stroke-width="1.2" />
<text x="720.48" y="220.2" font-family="Liberation Sans" font-size="10.32" font-weight="bold" font-style="normal" fill="#111" textLength="11.2" lengthAdjust="spacingAndGlyphs" >60</text>
<line x1="752.62" y1="203.4" x2="752.62" y2="207.8" stroke="#222" stroke-width="1.2" />
<text x="747.02" y="220.2" font-family="Liberation Sans" font-size="10.32" font-weight="bold" font-style="normal" fill="#111" textLength="11.2" lengthAdjust="spacingAndGlyphs" >80</text>
<text x="610.9" y="237.2" font-family="Liberation Sans" font-size="13.23" font-weight="bold" font-style="normal" fill="#111" textLength="69.4" lengthAdjust="spacingAndGlyphs" >Voltage (mV)</text>
<text transform="translate(509.5 208.4) rotate(-90)" x="0" y="0" font-family="Liberation Sans" font-size="13.95" font-weight="bold" fill="#111" textLength="167.1" lengthAdjust="spacingAndGlyphs">Current Density (pA/pF)</text>
<path d="M540.3 46.8 L546.93 46.8 L553.57 46.8 L560.2 46.8 L566.84 46.8 L573.47 47.32 L580.11 48.89 L586.75 53.85 L593.38 58.81 L600.01 64.55 L606.65 70.29 L613.28 74.47 L619.92 76.81 L626.55 77.86 L633.19 77.34 L639.82 76.29 L646.46 74.47 L653.09 72.64 L659.73 70.29 L666.37 67.42 L673 64.81 L679.63 61.42 L686.27 59.33 L692.9 57.5 L699.54 55.93 L706.17 53.85 L712.81 52.02 L719.44 50.45" stroke="#707070" stroke-width="1" fill="none" />
<rect x="538.1" y="44.6" width="4.4" height="4.4" fill="#707070" stroke="none" stroke-width="1" />
<rect x="544.73" y="44.6" width="4.4" height="4.4" fill="#707070" stroke="none" stroke-width="1" />
<rect x="551.37" y="44.6" width="4.4" height="4.4" fill="#707070" stroke="none" stroke-width="1" />
<rect x="558" y="44.6" width="4.4" height="4.4" fill="#707070" stroke="none" stroke-width="1" />
<rect x="564.64" y="44.6" width="4.4" height="4.4" fill="#707070" stroke="none" stroke-width="1" />
<rect x="571.27" y="45.12" width="4.4" height="4.4" fill="#707070" stroke="none" stroke-width="1" />
<line x1="580.11" y1="45.76" x2="580.11" y2="52.02" stroke="#707070" stroke-width="1.4" />
<line x1="576.81" y1="45.76" x2="583.41" y2="45.76" stroke="#707070" stroke-width="1.5" />
<line x1="576.81" y1="52.02" x2="583.41" y2="52.02" stroke="#707070" stroke-width="1.5" />
<rect x="577.91" y="46.69" width="4.4" height="4.4" fill="#707070" stroke="none" stroke-width="1" />
<line x1="586.75" y1="50.71" x2="586.75" y2="56.98" stroke="#707070" stroke-width="1.4" />
<line x1="583.45" y1="50.71" x2="590.04" y2="50.71" stroke="#707070" stroke-width="1.5" />
<line x1="583.45" y1="56.98" x2="590.04" y2="56.98" stroke="#707070" stroke-width="1.5" />
<rect x="584.54" y="51.65" width="4.4" height="4.4" fill="#707070" stroke="none" stroke-width="1" />
<line x1="593.38" y1="55.67" x2="593.38" y2="61.94" stroke="#707070" stroke-width="1.4" />
<line x1="590.08" y1="55.67" x2="596.68" y2="55.67" stroke="#707070" stroke-width="1.5" />
<line x1="590.08" y1="61.94" x2="596.68" y2="61.94" stroke="#707070" stroke-width="1.5" />
<rect x="591.18" y="56.61" width="4.4" height="4.4" fill="#707070" stroke="none" stroke-width="1" />
<line x1="600.01" y1="61.42" x2="600.01" y2="67.68" stroke="#707070" stroke-width="1.4" />
<line x1="596.72" y1="61.42" x2="603.31" y2="61.42" stroke="#707070" stroke-width="1.5" />
<line x1="596.72" y1="67.68" x2="603.31" y2="67.68" stroke="#707070" stroke-width="1.5" />
<rect x="597.81" y="62.35" width="4.4" height="4.4" fill="#707070" stroke="none" stroke-width="1" />
<line x1="606.65" y1="67.16" x2="606.65" y2="73.42" stroke="#707070" stroke-width="1.4" />
<line x1="603.35" y1="67.16" x2="609.95" y2="67.16" stroke="#707070" stroke-width="1.5" />
<line x1="603.35" y1="73.42" x2="609.95" y2="73.42" stroke="#707070" stroke-width="1.5" />
<rect x="604.45" y="68.09" width="4.4" height="4.4" fill="#707070" stroke="none" stroke-width="1" />
<line x1="613.28" y1="71.33" x2="613.28" y2="77.6" stroke="#707070" stroke-width="1.4" />
<line x1="609.99" y1="71.33" x2="616.58" y2="71.33" stroke="#707070" stroke-width="1.5" />
<line x1="609.99" y1="77.6" x2="616.58" y2="77.6" stroke="#707070" stroke-width="1.5" />
<rect x="611.08" y="72.27" width="4.4" height="4.4" fill="#707070" stroke="none" stroke-width="1" />
<line x1="619.92" y1="73.68" x2="619.92" y2="79.95" stroke="#707070" stroke-width="1.4" />
<line x1="616.62" y1="73.68" x2="623.22" y2="73.68" stroke="#707070" stroke-width="1.5" />
<line x1="616.62" y1="79.95" x2="623.22" y2="79.95" stroke="#707070" stroke-width="1.5" />
<rect x="617.72" y="74.61" width="4.4" height="4.4" fill="#707070" stroke="none" stroke-width="1" />
<line x1="626.55" y1="74.73" x2="626.55" y2="80.99" stroke="#707070" stroke-width="1.4" />
<line x1="623.25" y1="74.73" x2="629.85" y2="74.73" stroke="#707070" stroke-width="1.5" />
<line x1="623.25" y1="80.99" x2="629.85" y2="80.99" stroke="#707070" stroke-width="1.5" />
<rect x="624.35" y="75.66" width="4.4" height="4.4" fill="#707070" stroke="none" stroke-width="1" />
<line x1="633.19" y1="74.2" x2="633.19" y2="80.47" stroke="#707070" stroke-width="1.4" />
<line x1="629.89" y1="74.2" x2="636.49" y2="74.2" stroke="#707070" stroke-width="1.5" />
<line x1="629.89" y1="80.47" x2="636.49" y2="80.47" stroke="#707070" stroke-width="1.5" />
<rect x="630.99" y="75.14" width="4.4" height="4.4" fill="#707070" stroke="none" stroke-width="1" />
<line x1="639.82" y1="73.16" x2="639.82" y2="79.43" stroke="#707070" stroke-width="1.4" />
<line x1="636.52" y1="73.16" x2="643.12" y2="73.16" stroke="#707070" stroke-width="1.5" />
<line x1="636.52" y1="79.43" x2="643.12" y2="79.43" stroke="#707070" stroke-width="1.5" />
<rect x="637.62" y="74.09" width="4.4" height="4.4" fill="#707070" stroke="none" stroke-width="1" />
<line x1="646.46" y1="71.33" x2="646.46" y2="77.6" stroke="#707070" stroke-width="1.4" />
<line x1="643.16" y1="71.33" x2="649.76" y2="71.33" stroke="#707070" stroke-width="1.5" />
<line x1="643.16" y1="77.6" x2="649.76" y2="77.6" stroke="#707070" stroke-width="1.5" />
<rect x="644.26" y="72.27" width="4.4" height="4.4" fill="#707070" stroke="none" stroke-width="1" />
<line x1="653.09" y1="69.51" x2="653.09" y2="75.77" stroke="#707070" stroke-width="1.4" />
<line x1="649.79" y1="69.51" x2="656.39" y2="69.51" stroke="#707070" stroke-width="1.5" />
<line x1="649.79" y1="75.77" x2="656.39" y2="75.77" stroke="#707070" stroke-width="1.5" />
<rect x="650.89" y="70.44" width="4.4" height="4.4" fill="#707070" stroke="none" stroke-width="1" />
<line x1="659.73" y1="67.16" x2="659.73" y2="73.42" stroke="#707070" stroke-width="1.4" />
<line x1="656.43" y1="67.16" x2="663.03" y2="67.16" stroke="#707070" stroke-width="1.5" />
<line x1="656.43" y1="73.42" x2="663.03" y2="73.42" stroke="#707070" stroke-width="1.5" />
<rect x="657.53" y="68.09" width="4.4" height="4.4" fill="#707070" stroke="none" stroke-width="1" />
<line x1="666.37" y1="64.29" x2="666.37" y2="70.55" stroke="#707070" stroke-width="1.4" />
<line x1="663.07" y1="64.29" x2="669.66" y2="64.29" stroke="#707070" stroke-width="1.5" />
<line x1="663.07" y1="70.55" x2="669.66" y2="70.55" stroke="#707070" stroke-width="1.5" />
<rect x="664.16" y="65.22" width="4.4" height="4.4" fill="#707070" stroke="none" stroke-width="1" />
<line x1="673" y1="61.68" x2="673" y2="67.94" stroke="#707070" stroke-width="1.4" />
<line x1="669.7" y1="61.68" x2="676.3" y2="61.68" stroke="#707070" stroke-width="1.5" />
<line x1="669.7" y1="67.94" x2="676.3" y2="67.94" stroke="#707070" stroke-width="1.5" />
<rect x="670.8" y="62.61" width="4.4" height="4.4" fill="#707070" stroke="none" stroke-width="1" />
<line x1="679.63" y1="59.07" x2="679.63" y2="63.77" stroke="#707070" stroke-width="1.4" />
<line x1="676.34" y1="59.07" x2="682.93" y2="59.07" stroke="#707070" stroke-width="1.5" />
<line x1="676.34" y1="63.77" x2="682.93" y2="63.77" stroke="#707070" stroke-width="1.5" />
<rect x="677.43" y="59.22" width="4.4" height="4.4" fill="#707070" stroke="none" stroke-width="1" />
<line x1="686.27" y1="57.5" x2="686.27" y2="61.15" stroke="#707070" stroke-width="1.4" />
<line x1="682.97" y1="57.5" x2="689.57" y2="57.5" stroke="#707070" stroke-width="1.5" />
<line x1="682.97" y1="61.15" x2="689.57" y2="61.15" stroke="#707070" stroke-width="1.5" />
<rect x="684.07" y="57.13" width="4.4" height="4.4" fill="#707070" stroke="none" stroke-width="1" />
<rect x="690.7" y="55.3" width="4.4" height="4.4" fill="#707070" stroke="none" stroke-width="1" />
<rect x="697.34" y="53.73" width="4.4" height="4.4" fill="#707070" stroke="none" stroke-width="1" />
<rect x="703.97" y="51.65" width="4.4" height="4.4" fill="#707070" stroke="none" stroke-width="1" />
<rect x="710.61" y="49.82" width="4.4" height="4.4" fill="#707070" stroke="none" stroke-width="1" />
<rect x="717.24" y="48.25" width="4.4" height="4.4" fill="#707070" stroke="none" stroke-width="1" />
<path d="M540.3 46.8 L546.93 46.8 L553.57 46.8 L560.2 46.8 L566.84 47.32 L573.47 48.89 L580.11 53.06 L586.75 68.72 L593.38 103.18 L600.01 129.8 L606.65 152.24 L613.28 164.77 L619.92 173.12 L626.55 174.69 L633.19 169.99 L639.82 166.86 L646.46 160.6 L653.09 151.72 L659.73 148.07 L666.37 140.76 L673 129.28 L679.63 119.88 L686.27 110.48 L692.9 101.09 L699.54 93.26 L706.17 86.99 L712.81 78.64 L719.44 70.81" stroke="#000" stroke-width="1" fill="none" />
<circle cx="540.3" cy="46.8" r="2.7" fill="#000" stroke="none" stroke-width="1"/>
<circle cx="546.93" cy="46.8" r="2.7" fill="#000" stroke="none" stroke-width="1"/>
<circle cx="553.57" cy="46.8" r="2.7" fill="#000" stroke="none" stroke-width="1"/>
<circle cx="560.2" cy="46.8" r="2.7" fill="#000" stroke="none" stroke-width="1"/>
<circle cx="566.84" cy="47.32" r="2.7" fill="#000" stroke="none" stroke-width="1"/>
<circle cx="573.47" cy="48.89" r="2.7" fill="#000" stroke="none" stroke-width="1"/>
<line x1="580.11" y1="51.5" x2="580.11" y2="54.63" stroke="#000" stroke-width="1.8" />
<line x1="576.71" y1="51.5" x2="583.51" y2="51.5" stroke="#000" stroke-width="1.9" />
<line x1="576.71" y1="54.63" x2="583.51" y2="54.63" stroke="#000" stroke-width="1.9" />
<circle cx="580.11" cy="53.06" r="2.7" fill="#000" stroke="none" stroke-width="1"/>
<line x1="586.75" y1="61.94" x2="586.75" y2="75.51" stroke="#000" stroke-width="1.8" />
<line x1="583.35" y1="61.94" x2="590.14" y2="61.94" stroke="#000" stroke-width="1.9" />
<line x1="583.35" y1="75.51" x2="590.14" y2="75.51" stroke="#000" stroke-width="1.9" />
<circle cx="586.75" cy="68.72" r="2.7" fill="#000" stroke="none" stroke-width="1"/>
<line x1="593.38" y1="90.65" x2="593.38" y2="115.7" stroke="#000" stroke-width="1.8" />
<line x1="589.98" y1="90.65" x2="596.78" y2="90.65" stroke="#000" stroke-width="1.9" />
<line x1="589.98" y1="115.7" x2="596.78" y2="115.7" stroke="#000" stroke-width="1.9" />
<circle cx="593.38" cy="103.18" r="2.7" fill="#000" stroke="none" stroke-width="1"/>
<line x1="600.01" y1="116.23" x2="600.01" y2="143.37" stroke="#000" stroke-width="1.8" />
<line x1="596.62" y1="116.23" x2="603.41" y2="116.23" stroke="#000" stroke-width="1.9" />
<line x1="596.62" y1="143.37" x2="603.41" y2="143.37" stroke="#000" stroke-width="1.9" />
<circle cx="600.01" cy="129.8" r="2.7" fill="#000" stroke="none" stroke-width="1"/>
<line x1="606.65" y1="137.63" x2="606.65" y2="166.86" stroke="#000" stroke-width="1.8" />
<line x1="603.25" y1="137.63" x2="610.05" y2="137.63" stroke="#000" stroke-width="1.9" />
<line x1="603.25" y1="166.86" x2="610.05" y2="166.86" stroke="#000" stroke-width="1.9" />
<circle cx="606.65" cy="152.24" r="2.7" fill="#000" stroke="none" stroke-width="1"/>
<line x1="613.28" y1="149.63" x2="613.28" y2="179.91" stroke="#000" stroke-width="1.8" />
<line x1="609.88" y1="149.63" x2="616.68" y2="149.63" stroke="#000" stroke-width="1.9" />
<line x1="609.88" y1="179.91" x2="616.68" y2="179.91" stroke="#000" stroke-width="1.9" />
<circle cx="613.28" cy="164.77" r="2.7" fill="#000" stroke="none" stroke-width="1"/>
<line x1="619.92" y1="156.42" x2="619.92" y2="189.83" stroke="#000" stroke-width="1.8" />
<line x1="616.52" y1="156.42" x2="623.32" y2="156.42" stroke="#000" stroke-width="1.9" />
<line x1="616.52" y1="189.83" x2="623.32" y2="189.83" stroke="#000" stroke-width="1.9" />
<circle cx="619.92" cy="173.12" r="2.7" fill="#000" stroke="none" stroke-width="1"/>
<line x1="626.55" y1="157.46" x2="626.55" y2="191.92" stroke="#000" stroke-width="1.8" />
<line x1="623.15" y1="157.46" x2="629.95" y2="157.46" stroke="#000" stroke-width="1.9" />
<line x1="623.15" y1="191.92" x2="629.95" y2="191.92" stroke="#000" stroke-width="1.9" />
<circle cx="626.55" cy="174.69" r="2.7" fill="#000" stroke="none" stroke-width="1"/>
<line x1="633.19" y1="152.77" x2="633.19" y2="187.22" stroke="#000" stroke-width="1.8" />
<line x1="629.79" y1="152.77" x2="636.59" y2="152.77" stroke="#000" stroke-width="1.9" />
<line x1="629.79" y1="187.22" x2="636.59" y2="187.22" stroke="#000" stroke-width="1.9" />
<circle cx="633.19" cy="169.99" r="2.7" fill="#000" stroke="none" stroke-width="1"/>
<line x1="639.82" y1="149.11" x2="639.82" y2="184.61" stroke="#000" stroke-width="1.8" />
<line x1="636.42" y1="149.11" x2="643.22" y2="149.11" stroke="#000" stroke-width="1.9" />
<line x1="636.42" y1="184.61" x2="643.22" y2="184.61" stroke="#000" stroke-width="1.9" />
<circle cx="639.82" cy="166.86" r="2.7" fill="#000" stroke="none" stroke-width="1"/>
<line x1="646.46" y1="143.37" x2="646.46" y2="177.82" stroke="#000" stroke-width="1.8" />
<line x1="643.06" y1="143.37" x2="649.86" y2="143.37" stroke="#000" stroke-width="1.9" />
<line x1="643.06" y1="177.82" x2="649.86" y2="177.82" stroke="#000" stroke-width="1.9" />
<circle cx="646.46" cy="160.6" r="2.7" fill="#000" stroke="none" stroke-width="1"/>
<line x1="653.09" y1="135.54" x2="653.09" y2="167.9" stroke="#000" stroke-width="1.8" />
<line x1="649.69" y1="135.54" x2="656.49" y2="135.54" stroke="#000" stroke-width="1.9" />
<line x1="649.69" y1="167.9" x2="656.49" y2="167.9" stroke="#000" stroke-width="1.9" />
<circle cx="653.09" cy="151.72" r="2.7" fill="#000" stroke="none" stroke-width="1"/>
<line x1="659.73" y1="132.93" x2="659.73" y2="163.21" stroke="#000" stroke-width="1.8" />
<line x1="656.33" y1="132.93" x2="663.13" y2="132.93" stroke="#000" stroke-width="1.9" />
<line x1="656.33" y1="163.21" x2="663.13" y2="163.21" stroke="#000" stroke-width="1.9" />
<circle cx="659.73" cy="148.07" r="2.7" fill="#000" stroke="none" stroke-width="1"/>
<line x1="666.37" y1="126.67" x2="666.37" y2="154.85" stroke="#000" stroke-width="1.8" />
<line x1="662.97" y1="126.67" x2="669.76" y2="126.67" stroke="#000" stroke-width="1.9" />
<line x1="662.97" y1="154.85" x2="669.76" y2="154.85" stroke="#000" stroke-width="1.9" />
<circle cx="666.37" cy="140.76" r="2.7" fill="#000" stroke="none" stroke-width="1"/>
<line x1="673" y1="116.23" x2="673" y2="142.33" stroke="#000" stroke-width="1.8" />
<line x1="669.6" y1="116.23" x2="676.4" y2="116.23" stroke="#000" stroke-width="1.9" />
<line x1="669.6" y1="142.33" x2="676.4" y2="142.33" stroke="#000" stroke-width="1.9" />
<circle cx="673" cy="129.28" r="2.7" fill="#000" stroke="none" stroke-width="1"/>
<line x1="679.63" y1="108.4" x2="679.63" y2="131.36" stroke="#000" stroke-width="1.8" />
<line x1="676.24" y1="108.4" x2="683.03" y2="108.4" stroke="#000" stroke-width="1.9" />
<line x1="676.24" y1="131.36" x2="683.03" y2="131.36" stroke="#000" stroke-width="1.9" />
<circle cx="679.63" cy="119.88" r="2.7" fill="#000" stroke="none" stroke-width="1"/>
<line x1="686.27" y1="100.57" x2="686.27" y2="120.4" stroke="#000" stroke-width="1.8" />
<line x1="682.87" y1="100.57" x2="689.67" y2="100.57" stroke="#000" stroke-width="1.9" />
<line x1="682.87" y1="120.4" x2="689.67" y2="120.4" stroke="#000" stroke-width="1.9" />
<circle cx="686.27" cy="110.48" r="2.7" fill="#000" stroke="none" stroke-width="1"/>
<line x1="692.9" y1="92.74" x2="692.9" y2="109.44" stroke="#000" stroke-width="1.8" />
<line x1="689.5" y1="92.74" x2="696.3" y2="92.74" stroke="#000" stroke-width="1.9" />
<line x1="689.5" y1="109.44" x2="696.3" y2="109.44" stroke="#000" stroke-width="1.9" />
<circle cx="692.9" cy="101.09" r="2.7" fill="#000" stroke="none" stroke-width="1"/>
<line x1="699.54" y1="86.47" x2="699.54" y2="100.04" stroke="#000" stroke-width="1.8" />
<line x1="696.14" y1="86.47" x2="702.94" y2="86.47" stroke="#000" stroke-width="1.9" />
<line x1="696.14" y1="100.04" x2="702.94" y2="100.04" stroke="#000" stroke-width="1.9" />
<circle cx="699.54" cy="93.26" r="2.7" fill="#000" stroke="none" stroke-width="1"/>
<line x1="706.17" y1="81.77" x2="706.17" y2="92.21" stroke="#000" stroke-width="1.8" />
<line x1="702.77" y1="81.77" x2="709.57" y2="81.77" stroke="#000" stroke-width="1.9" />
<line x1="702.77" y1="92.21" x2="709.57" y2="92.21" stroke="#000" stroke-width="1.9" />
<circle cx="706.17" cy="86.99" r="2.7" fill="#000" stroke="none" stroke-width="1"/>
<line x1="712.81" y1="73.94" x2="712.81" y2="83.34" stroke="#000" stroke-width="1.8" />
<line x1="709.41" y1="73.94" x2="716.21" y2="73.94" stroke="#000" stroke-width="1.9" />
<line x1="709.41" y1="83.34" x2="716.21" y2="83.34" stroke="#000" stroke-width="1.9" />
<circle cx="712.81" cy="78.64" r="2.7" fill="#000" stroke="none" stroke-width="1"/>
<line x1="719.44" y1="66.64" x2="719.44" y2="74.99" stroke="#000" stroke-width="1.8" />
<line x1="716.04" y1="66.64" x2="722.84" y2="66.64" stroke="#000" stroke-width="1.9" />
<line x1="716.04" y1="74.99" x2="722.84" y2="74.99" stroke="#000" stroke-width="1.9" />
<circle cx="719.44" cy="70.81" r="2.7" fill="#000" stroke="none" stroke-width="1"/>
<rect x="537.7" y="44.2" width="5.2" height="4.6" fill="#6a6a6a" stroke="none" stroke-width="1" />
<rect x="544.33" y="44.2" width="5.2" height="4.6" fill="#6a6a6a" stroke="none" stroke-width="1" />
<rect x="550.97" y="44.2" width="5.2" height="4.6" fill="#6a6a6a" stroke="none" stroke-width="1" />
<rect x="557.6" y="44.2" width="5.2" height="4.6" fill="#6a6a6a" stroke="none" stroke-width="1" />
<rect x="564.24" y="44.2" width="5.2" height="4.6" fill="#6a6a6a" stroke="none" stroke-width="1" />
<rect x="570.87" y="44.72" width="5.2" height="4.6" fill="#6a6a6a" stroke="none" stroke-width="1" />
<rect x="577.51" y="46.29" width="5.2" height="4.6" fill="#6a6a6a" stroke="none" stroke-width="1" />
<line x1="664.5" y1="173.2" x2="679.7" y2="173.2" stroke="#000" stroke-width="1.2" />
<circle cx="671.9" cy="173.2" r="2.8" fill="#000" stroke="none" stroke-width="1"/>
<text x="691.2" y="175.6" font-family="Liberation Sans" font-size="9.16" font-weight="bold" font-style="normal" fill="#111" textLength="57" lengthAdjust="spacingAndGlyphs" >CON1 (n=15)</text>
<line x1="664.5" y1="190.9" x2="679.7" y2="190.9" stroke="#777" stroke-width="1.2" />
<rect x="669.4" y="188.5" width="4.9" height="4.9" fill="#777" stroke="none" stroke-width="1" />
<text x="691.2" y="192.3" font-family="Liberation Sans" font-size="9.16" font-weight="bold" font-style="normal" fill="#111" textLength="51.3" lengthAdjust="spacingAndGlyphs" >BrS1 (n=21)</text>
<text x="2.2" y="303.8" font-family="Liberation Sans" font-size="15.41" font-weight="bold" font-style="normal" fill="#000" textLength="10" lengthAdjust="spacingAndGlyphs" >D</text>
<text x="83.8" y="322.3" font-family="Liberation Sans" font-size="11.34" font-weight="bold" font-style="normal" fill="#111" textLength="116.5" lengthAdjust="spacingAndGlyphs" >SS-Inactivation Curve</text>
<line x1="53.3" y1="338.8" x2="53.3" y2="464.4" stroke="#111" stroke-width="1.2" />
<line x1="53.3" y1="463.8" x2="230.9" y2="463.8" stroke="#111" stroke-width="1.2" />
<line x1="50.2" y1="463.8" x2="53.5" y2="463.8" stroke="#111" stroke-width="1.2" />
<text x="38" y="467.2" font-family="Liberation Sans" font-size="10.03" font-weight="bold" font-style="normal" fill="#111" textLength="11" lengthAdjust="spacingAndGlyphs" >0.0</text>
<line x1="50.2" y1="401.3" x2="53.5" y2="401.3" stroke="#111" stroke-width="1.2" />
<text x="38" y="404.7" font-family="Liberation Sans" font-size="10.03" font-weight="bold" font-style="normal" fill="#111" textLength="11" lengthAdjust="spacingAndGlyphs" >0.5</text>
<line x1="50.2" y1="338.8" x2="53.5" y2="338.8" stroke="#111" stroke-width="1.2" />
<text x="38" y="342.2" font-family="Liberation Sans" font-size="10.03" font-weight="bold" font-style="normal" fill="#111" textLength="11" lengthAdjust="spacingAndGlyphs" >1.0</text>
<line x1="53.3" y1="463.8" x2="53.3" y2="467.9" stroke="#111" stroke-width="1.2" />
<text x="45.4" y="477.5" font-family="Liberation Sans" font-size="9.45" font-weight="bold" font-style="normal" fill="#111" textLength="15.8" lengthAdjust="spacingAndGlyphs" >-120</text>
<line x1="82.8" y1="463.8" x2="82.8" y2="467.9" stroke="#111" stroke-width="1.2" />
<text x="74.9" y="477.5" font-family="Liberation Sans" font-size="9.45" font-weight="bold" font-style="normal" fill="#111" textLength="15.8" lengthAdjust="spacingAndGlyphs" >-100</text>
<line x1="112.3" y1="463.8" x2="112.3" y2="467.9" stroke="#111" stroke-width="1.2" />
<text x="106.7" y="477.5" font-family="Liberation Sans" font-size="9.45" font-weight="bold" font-style="normal" fill="#111" textLength="11.2" lengthAdjust="spacingAndGlyphs" >-80</text>
<line x1="141.8" y1="463.8" x2="141.8" y2="467.9" stroke="#111" stroke-width="1.2" />
<text x="136.2" y="477.5" font-family="Liberation Sans" font-size="9.45" font-weight="bold" font-style="normal" fill="#111" textLength="11.2" lengthAdjust="spacingAndGlyphs" >-60</text>
<line x1="171.3" y1="463.8" x2="171.3" y2="467.9" stroke="#111" stroke-width="1.2" />
<text x="165.7" y="477.5" font-family="Liberation Sans" font-size="9.45" font-weight="bold" font-style="normal" fill="#111" textLength="11.2" lengthAdjust="spacingAndGlyphs" >-40</text>
<line x1="200.8" y1="463.8" x2="200.8" y2="467.9" stroke="#111" stroke-width="1.2" />
<text x="195.2" y="477.5" font-family="Liberation Sans" font-size="9.45" font-weight="bold" font-style="normal" fill="#111" textLength="11.2" lengthAdjust="spacingAndGlyphs" >-20</text>
<line x1="230.3" y1="463.8" x2="230.3" y2="467.9" stroke="#111" stroke-width="1.2" />
<text x="227.8" y="477.5" font-family="Liberation Sans" font-size="9.45" font-weight="bold" font-style="normal" fill="#111" textLength="5" lengthAdjust="spacingAndGlyphs" >0</text>
<text x="113" y="491.3" font-family="Liberation Sans" font-size="9.88" font-weight="bold" font-style="normal" fill="#111" textLength="57.5" lengthAdjust="spacingAndGlyphs" >Voltage (mV)</text>
<text transform="translate(31.2 456.3) rotate(-90)" x="0" y="0" font-family="Liberation Sans" font-size="11.77" font-weight="bold" fill="#111" textLength="112.4" lengthAdjust="spacingAndGlyphs">Normalized Current</text>
<path d="M53.3 340.13 L54.04 340.13 L54.78 340.14 L55.52 340.15 L56.26 340.15 L57 340.16 L57.74 340.17 L58.48 340.18 L59.22 340.19 L59.97 340.21 L60.71 340.22 L61.45 340.23 L62.19 340.25 L62.93 340.26 L63.67 340.28 L64.41 340.3 L65.15 340.32 L65.89 340.34 L66.63 340.37 L67.37 340.39 L68.11 340.42 L68.85 340.45 L69.59 340.49 L70.33 340.52 L71.07 340.56 L71.81 340.6 L72.56 340.65 L73.3 340.7 L74.04 340.75 L74.78 340.81 L75.52 340.87 L76.26 340.94 L77 341.02 L77.74 341.09 L78.48 341.18 L79.22 341.27 L79.96 341.37 L80.7 341.48 L81.44 341.6 L82.18 341.73 L82.92 341.86 L83.66 342.01 L84.4 342.17 L85.15 342.34 L85.89 342.53 L86.63 342.73 L87.37 342.95 L88.11 343.18 L88.85 343.43 L89.59 343.71 L90.33 344 L91.07 344.32 L91.81 344.66 L92.55 345.02 L93.29 345.42 L94.03 345.84 L94.77 346.3 L95.51 346.79 L96.25 347.31 L96.99 347.87 L97.74 348.48 L98.48 349.12 L99.22 349.81 L99.96 350.55 L100.7 351.34 L101.44 352.19 L102.18 353.08 L102.92 354.04 L103.66 355.05 L104.4 356.13 L105.14 357.27 L105.88 358.48 L106.62 359.76 L107.36 361.11 L108.1 362.53 L108.84 364.02 L109.58 365.59 L110.33 367.23 L111.07 368.94 L111.81 370.72 L112.55 372.58 L113.29 374.5 L114.03 376.49 L114.77 378.54 L115.51 380.66 L116.25 382.82 L116.99 385.04 L117.73 387.3 L118.47 389.61 L119.21 391.94 L119.95 394.3 L120.69 396.67 L121.43 399.06 L122.17 401.45 L122.92 403.84 L123.66 406.21 L124.4 408.57 L125.14 410.9 L125.88 413.19 L126.62 415.45 L127.36 417.66 L128.1 419.81 L128.84 421.92 L129.58 423.96 L130.32 425.94 L131.06 427.85 L131.8 429.69 L132.54 431.46 L133.28 433.16 L134.02 434.79 L134.76 436.34 L135.51 437.82 L136.25 439.23 L136.99 440.57 L137.73 441.83 L138.47 443.03 L139.21 444.16 L139.95 445.23 L140.69 446.23 L141.43 447.18 L142.17 448.06 L142.91 448.9 L143.65 449.68 L144.39 450.41 L145.13 451.09 L145.87 451.73 L146.61 452.33 L147.35 452.88 L148.09 453.4 L148.84 453.88 L149.58 454.33 L150.32 454.75 L151.06 455.14 L151.8 455.5 L152.54 455.84 L153.28 456.15 L154.02 456.44 L154.76 456.71 L155.5 456.96 L156.24 457.19 L156.98 457.4 L157.72 457.6 L158.46 457.79 L159.2 457.96 L159.94 458.12 L160.68 458.26 L161.43 458.4 L162.17 458.52 L162.91 458.64 L163.65 458.74 L164.39 458.84 L165.13 458.93 L165.87 459.02 L166.61 459.1 L167.35 459.17 L168.09 459.24 L168.83 459.3 L169.57 459.36 L170.31 459.41 L171.05 459.46 L171.79 459.5 L172.53 459.54 L173.27 459.58 L174.02 459.62 L174.76 459.65 L175.5 459.68 L176.24 459.71 L176.98 459.74 L177.72 459.76 L178.46 459.78 L179.2 459.8 L179.94 459.82 L180.68 459.84 L181.42 459.86 L182.16 459.87 L182.9 459.88 L183.64 459.9 L184.38 459.91 L185.12 459.92 L185.86 459.93 L186.61 459.94 L187.35 459.95 L188.09 459.95 L188.83 459.96 L189.57 459.97 L190.31 459.98 L191.05 459.98 L191.79 459.99 L192.53 459.99 L193.27 460 L194.01 460 L194.75 460 L195.49 460.01 L196.23 460.01 L196.97 460.01 L197.71 460.02 L198.45 460.02 L199.2 460.02 L199.94 460.02 L200.68 460.03 L201.42 460.03 L202.16 460.03 L202.9 460.03 L203.64 460.03 L204.38 460.03 L205.12 460.03 L205.86 460.04 L206.6 460.04 L207.34 460.04 L208.08 460.04 L208.82 460.04 L209.56 460.04 L210.3 460.04 L211.04 460.04 L211.79 460.04 L212.53 460.04 L213.27 460.04 L214.01 460.04 L214.75 460.04 L215.49 460.05 L216.23 460.05 L216.97 460.05 L217.71 460.05 L218.45 460.05 L219.19 460.05 L219.93 460.05 L220.67 460.05 L221.41 460.05 L222.15 460.05 L222.89 460.05 L223.63 460.05 L224.38 460.05 L225.12 460.05 L225.86 460.05 L226.6 460.05 L227.34 460.05 L228.08 460.05 L228.82 460.05 L229.56 460.05 L230.3 460.05" stroke="#777" stroke-width="1.1" fill="none" />
<path d="M53.3 342.66 L54.04 342.67 L54.78 342.68 L55.52 342.69 L56.26 342.7 L57 342.71 L57.74 342.72 L58.48 342.73 L59.22 342.75 L59.97 342.76 L60.71 342.78 L61.45 342.79 L62.19 342.81 L62.93 342.83 L63.67 342.85 L64.41 342.87 L65.15 342.89 L65.89 342.92 L66.63 342.95 L67.37 342.97 L68.11 343.01 L68.85 343.04 L69.59 343.07 L70.33 343.11 L71.07 343.15 L71.81 343.2 L72.56 343.24 L73.3 343.3 L74.04 343.35 L74.78 343.41 L75.52 343.47 L76.26 343.54 L77 343.61 L77.74 343.69 L78.48 343.77 L79.22 343.86 L79.96 343.95 L80.7 344.05 L81.44 344.16 L82.18 344.28 L82.92 344.4 L83.66 344.54 L84.4 344.68 L85.15 344.83 L85.89 344.99 L86.63 345.17 L87.37 345.36 L88.11 345.56 L88.85 345.77 L89.59 346 L90.33 346.25 L91.07 346.51 L91.81 346.79 L92.55 347.08 L93.29 347.4 L94.03 347.74 L94.77 348.11 L95.51 348.49 L96.25 348.9 L96.99 349.34 L97.74 349.81 L98.48 350.31 L99.22 350.83 L99.96 351.39 L100.7 351.99 L101.44 352.62 L102.18 353.29 L102.92 354 L103.66 354.75 L104.4 355.55 L105.14 356.39 L105.88 357.28 L106.62 358.21 L107.36 359.19 L108.1 360.23 L108.84 361.32 L109.58 362.46 L110.33 363.65 L111.07 364.9 L111.81 366.21 L112.55 367.57 L113.29 368.99 L114.03 370.47 L114.77 372 L115.51 373.58 L116.25 375.22 L116.99 376.91 L117.73 378.65 L118.47 380.44 L119.21 382.27 L119.95 384.15 L120.69 386.06 L121.43 388.01 L122.17 389.99 L122.92 391.99 L123.66 394.02 L124.4 396.06 L125.14 398.12 L125.88 400.19 L126.62 402.25 L127.36 404.31 L128.1 406.37 L128.84 408.41 L129.58 410.43 L130.32 412.43 L131.06 414.41 L131.8 416.35 L132.54 418.25 L133.28 420.12 L134.02 421.94 L134.76 423.72 L135.51 425.45 L136.25 427.13 L136.99 428.75 L137.73 430.32 L138.47 431.84 L139.21 433.3 L139.95 434.71 L140.69 436.06 L141.43 437.35 L142.17 438.59 L142.91 439.78 L143.65 440.91 L144.39 441.98 L145.13 443 L145.87 443.98 L146.61 444.9 L147.35 445.78 L148.09 446.61 L148.84 447.39 L149.58 448.13 L150.32 448.83 L151.06 449.5 L151.8 450.12 L152.54 450.71 L153.28 451.26 L154.02 451.78 L154.76 452.27 L155.5 452.73 L156.24 453.17 L156.98 453.57 L157.72 453.95 L158.46 454.31 L159.2 454.64 L159.94 454.96 L160.68 455.25 L161.43 455.53 L162.17 455.79 L162.91 456.03 L163.65 456.25 L164.39 456.46 L165.13 456.66 L165.87 456.85 L166.61 457.02 L167.35 457.18 L168.09 457.33 L168.83 457.47 L169.57 457.6 L170.31 457.72 L171.05 457.84 L171.79 457.95 L172.53 458.05 L173.27 458.14 L174.02 458.23 L174.76 458.31 L175.5 458.38 L176.24 458.45 L176.98 458.52 L177.72 458.58 L178.46 458.64 L179.2 458.69 L179.94 458.74 L180.68 458.79 L181.42 458.83 L182.16 458.87 L182.9 458.91 L183.64 458.94 L184.38 458.98 L185.12 459.01 L185.86 459.04 L186.61 459.06 L187.35 459.09 L188.09 459.11 L188.83 459.13 L189.57 459.15 L190.31 459.17 L191.05 459.19 L191.79 459.2 L192.53 459.22 L193.27 459.23 L194.01 459.25 L194.75 459.26 L195.49 459.27 L196.23 459.28 L196.97 459.29 L197.71 459.3 L198.45 459.31 L199.2 459.32 L199.94 459.32 L200.68 459.33 L201.42 459.34 L202.16 459.34 L202.9 459.35 L203.64 459.35 L204.38 459.36 L205.12 459.36 L205.86 459.37 L206.6 459.37 L207.34 459.37 L208.08 459.38 L208.82 459.38 L209.56 459.38 L210.3 459.39 L211.04 459.39 L211.79 459.39 L212.53 459.39 L213.27 459.4 L214.01 459.4 L214.75 459.4 L215.49 459.4 L216.23 459.4 L216.97 459.4 L217.71 459.41 L218.45 459.41 L219.19 459.41 L219.93 459.41 L220.67 459.41 L221.41 459.41 L222.15 459.41 L222.89 459.41 L223.63 459.41 L224.38 459.42 L225.12 459.42 L225.86 459.42 L226.6 459.42 L227.34 459.42 L228.08 459.42 L228.82 459.42 L229.56 459.42 L230.3 459.42" stroke="#000" stroke-width="1.3" fill="none" />
<circle cx="53.3" cy="343.8" r="2.5" fill="#000" stroke="none" stroke-width="1"/>
<circle cx="60.67" cy="343.8" r="2.5" fill="#000" stroke="none" stroke-width="1"/>
<circle cx="68.05" cy="341.93" r="2.5" fill="#000" stroke="none" stroke-width="1"/>
<circle cx="75.42" cy="343.8" r="2.5" fill="#000" stroke="none" stroke-width="1"/>
<circle cx="82.8" cy="344.43" r="2.5" fill="#000" stroke="none" stroke-width="1"/>
<circle cx="90.17" cy="345.05" r="2.5" fill="#000" stroke="none" stroke-width="1"/>
<line x1="97.55" y1="343.18" x2="97.55" y2="347.55" stroke="#000" stroke-width="1.3" />
<line x1="94.75" y1="343.18" x2="100.35" y2="343.18" stroke="#000" stroke-width="1.8" />
<circle cx="97.55" cy="347.55" r="2.5" fill="#000" stroke="none" stroke-width="1"/>
<line x1="104.92" y1="351.93" x2="104.92" y2="356.3" stroke="#000" stroke-width="1.3" />
<line x1="102.12" y1="351.93" x2="107.72" y2="351.93" stroke="#000" stroke-width="1.8" />
<circle cx="104.92" cy="356.3" r="2.5" fill="#000" stroke="none" stroke-width="1"/>
<line x1="112.3" y1="361.3" x2="112.3" y2="365.68" stroke="#000" stroke-width="1.3" />
<line x1="109.5" y1="361.3" x2="115.1" y2="361.3" stroke="#000" stroke-width="1.8" />
<circle cx="112.3" cy="365.68" r="2.5" fill="#000" stroke="none" stroke-width="1"/>
<line x1="119.67" y1="378.93" x2="119.67" y2="383.3" stroke="#000" stroke-width="1.3" />
<line x1="116.88" y1="378.93" x2="122.47" y2="378.93" stroke="#000" stroke-width="1.8" />
<circle cx="119.67" cy="383.3" r="2.5" fill="#000" stroke="none" stroke-width="1"/>
<line x1="127.05" y1="399.43" x2="127.05" y2="403.8" stroke="#000" stroke-width="1.3" />
<line x1="124.25" y1="399.43" x2="129.85" y2="399.43" stroke="#000" stroke-width="1.8" />
<circle cx="127.05" cy="403.8" r="2.5" fill="#000" stroke="none" stroke-width="1"/>
<line x1="134.43" y1="415.18" x2="134.43" y2="419.55" stroke="#000" stroke-width="1.3" />
<line x1="131.62" y1="415.18" x2="137.23" y2="415.18" stroke="#000" stroke-width="1.8" />
<circle cx="134.43" cy="419.55" r="2.5" fill="#000" stroke="none" stroke-width="1"/>
<line x1="141.8" y1="432.18" x2="141.8" y2="436.55" stroke="#000" stroke-width="1.3" />
<line x1="139" y1="432.18" x2="144.6" y2="432.18" stroke="#000" stroke-width="1.8" />
<circle cx="141.8" cy="436.55" r="2.5" fill="#000" stroke="none" stroke-width="1"/>
<line x1="149.18" y1="441.93" x2="149.18" y2="446.3" stroke="#000" stroke-width="1.3" />
<line x1="146.38" y1="441.93" x2="151.98" y2="441.93" stroke="#000" stroke-width="1.8" />
<circle cx="149.18" cy="446.3" r="2.5" fill="#000" stroke="none" stroke-width="1"/>
<line x1="156.55" y1="448.18" x2="156.55" y2="452.55" stroke="#000" stroke-width="1.3" />
<line x1="153.75" y1="448.18" x2="159.35" y2="448.18" stroke="#000" stroke-width="1.8" />
<circle cx="156.55" cy="452.55" r="2.5" fill="#000" stroke="none" stroke-width="1"/>
<circle cx="163.93" cy="455.3" r="2.5" fill="#000" stroke="none" stroke-width="1"/>
<circle cx="171.3" cy="456.3" r="2.5" fill="#000" stroke="none" stroke-width="1"/>
<circle cx="178.68" cy="456.8" r="2.5" fill="#000" stroke="none" stroke-width="1"/>
<circle cx="186.05" cy="457.55" r="2.5" fill="#000" stroke="none" stroke-width="1"/>
<circle cx="193.43" cy="458.8" r="2.5" fill="#000" stroke="none" stroke-width="1"/>
<circle cx="200.8" cy="459.3" r="2.5" fill="#000" stroke="none" stroke-width="1"/>
<circle cx="208.18" cy="459.55" r="2.5" fill="#000" stroke="none" stroke-width="1"/>
<circle cx="215.55" cy="459.68" r="2.5" fill="#000" stroke="none" stroke-width="1"/>
<circle cx="222.93" cy="459.68" r="2.5" fill="#000" stroke="none" stroke-width="1"/>
<circle cx="230.3" cy="459.68" r="2.5" fill="#000" stroke="none" stroke-width="1"/>
<rect x="50.7" y="338.7" width="5.2" height="5.2" fill="#808080" stroke="none" stroke-width="1" />
<rect x="58.07" y="337.45" width="5.2" height="5.2" fill="#808080" stroke="none" stroke-width="1" />
<rect x="65.45" y="336.82" width="5.2" height="5.2" fill="#808080" stroke="none" stroke-width="1" />
<rect x="72.83" y="337.45" width="5.2" height="5.2" fill="#808080" stroke="none" stroke-width="1" />
<rect x="80.2" y="338.7" width="5.2" height="5.2" fill="#808080" stroke="none" stroke-width="1" />
<rect x="87.58" y="338.7" width="5.2" height="5.2" fill="#808080" stroke="none" stroke-width="1" />
<rect x="94.95" y="343.7" width="5.2" height="5.2" fill="#808080" stroke="none" stroke-width="1" />
<rect x="102.33" y="353.7" width="5.2" height="5.2" fill="#808080" stroke="none" stroke-width="1" />
<rect x="109.7" y="369.95" width="5.2" height="5.2" fill="#808080" stroke="none" stroke-width="1" />
<rect x="117.08" y="388.7" width="5.2" height="5.2" fill="#808080" stroke="none" stroke-width="1" />
<rect x="124.45" y="412.45" width="5.2" height="5.2" fill="#808080" stroke="none" stroke-width="1" />
<rect x="131.83" y="430.57" width="5.2" height="5.2" fill="#808080" stroke="none" stroke-width="1" />
<rect x="139.2" y="444.95" width="5.2" height="5.2" fill="#808080" stroke="none" stroke-width="1" />
<rect x="146.58" y="452.2" width="5.2" height="5.2" fill="#808080" stroke="none" stroke-width="1" />
<rect x="153.95" y="455.32" width="5.2" height="5.2" fill="#808080" stroke="none" stroke-width="1" />
<rect x="161.33" y="455.82" width="5.2" height="5.2" fill="#808080" stroke="none" stroke-width="1" />
<rect x="168.7" y="456.95" width="5.2" height="5.2" fill="#808080" stroke="none" stroke-width="1" />
<rect x="176.08" y="457.95" width="5.2" height="5.2" fill="#808080" stroke="none" stroke-width="1" />
<rect x="183.45" y="458.07" width="5.2" height="5.2" fill="#808080" stroke="none" stroke-width="1" />
<rect x="190.83" y="458.07" width="5.2" height="5.2" fill="#808080" stroke="none" stroke-width="1" />
<rect x="198.2" y="458.07" width="5.2" height="5.2" fill="#808080" stroke="none" stroke-width="1" />
<rect x="205.58" y="457.95" width="5.2" height="5.2" fill="#808080" stroke="none" stroke-width="1" />
<rect x="212.95" y="457.82" width="5.2" height="5.2" fill="#808080" stroke="none" stroke-width="1" />
<rect x="220.33" y="457.7" width="5.2" height="5.2" fill="#808080" stroke="none" stroke-width="1" />
<rect x="227.7" y="456.2" width="5.2" height="5.2" fill="#808080" stroke="none" stroke-width="1" />
<line x1="145.5" y1="357.6" x2="156.2" y2="357.6" stroke="#000" stroke-width="1.2" />
<circle cx="151.4" cy="357.6" r="2.3" fill="#000" stroke="none" stroke-width="1"/>
<text x="165.5" y="361.4" font-family="Liberation Sans" font-size="10.17" font-weight="bold" font-style="normal" fill="#111" textLength="56.9" lengthAdjust="spacingAndGlyphs" >CON1 (n=15)</text>
<line x1="145.5" y1="372.8" x2="156.2" y2="372.8" stroke="#808080" stroke-width="1.2" />
<rect x="148.9" y="370.3" width="5" height="5" fill="#808080" stroke="none" stroke-width="1" />
<text x="165.5" y="377" font-family="Liberation Sans" font-size="10.17" font-weight="bold" font-style="normal" fill="#111" textLength="52.7" lengthAdjust="spacingAndGlyphs" >BrS1 (n=15)</text>
<text x="277.8" y="303.8" font-family="Liberation Sans" font-size="13.95" font-weight="bold" font-style="normal" fill="#000" textLength="7.2" lengthAdjust="spacingAndGlyphs" >E</text>
<text x="350.9" y="321.9" font-family="Liberation Sans" font-size="11.63" font-weight="bold" font-style="normal" fill="#111" textLength="84.9" lengthAdjust="spacingAndGlyphs" >Activation Curve</text>
<line x1="309.3" y1="338" x2="309.3" y2="462.9" stroke="#111" stroke-width="1.3" />
<line x1="306.3" y1="462.3" x2="478.6" y2="462.3" stroke="#111" stroke-width="1.3" />
<line x1="306" y1="462.3" x2="309.2" y2="462.3" stroke="#111" stroke-width="1.2" />
<text x="294.2" y="465.7" font-family="Liberation Sans" font-size="9.88" font-weight="bold" font-style="normal" fill="#111" textLength="10.4" lengthAdjust="spacingAndGlyphs" >0.0</text>
<line x1="306" y1="400.15" x2="309.2" y2="400.15" stroke="#111" stroke-width="1.2" />
<text x="294.2" y="403.55" font-family="Liberation Sans" font-size="9.88" font-weight="bold" font-style="normal" fill="#111" textLength="10.4" lengthAdjust="spacingAndGlyphs" >0.5</text>
<line x1="306" y1="338" x2="309.2" y2="338" stroke="#111" stroke-width="1.2" />
<text x="294.2" y="341.4" font-family="Liberation Sans" font-size="9.88" font-weight="bold" font-style="normal" fill="#111" textLength="10.4" lengthAdjust="spacingAndGlyphs" >1.0</text>
<line x1="317.9" y1="462.3" x2="317.9" y2="466" stroke="#111" stroke-width="1.2" />
<text x="310.05" y="475.7" font-family="Liberation Sans" font-size="9.45" font-weight="bold" font-style="normal" fill="#111" textLength="15.7" lengthAdjust="spacingAndGlyphs" >-100</text>
<line x1="353.5" y1="462.3" x2="353.5" y2="466" stroke="#111" stroke-width="1.2" />
<text x="347.9" y="475.7" font-family="Liberation Sans" font-size="9.45" font-weight="bold" font-style="normal" fill="#111" textLength="11.2" lengthAdjust="spacingAndGlyphs" >-80</text>
<line x1="389.1" y1="462.3" x2="389.1" y2="466" stroke="#111" stroke-width="1.2" />
<text x="383.5" y="475.7" font-family="Liberation Sans" font-size="9.45" font-weight="bold" font-style="normal" fill="#111" textLength="11.2" lengthAdjust="spacingAndGlyphs" >-60</text>
<line x1="424.7" y1="462.3" x2="424.7" y2="466" stroke="#111" stroke-width="1.2" />
<text x="419.1" y="475.7" font-family="Liberation Sans" font-size="9.45" font-weight="bold" font-style="normal" fill="#111" textLength="11.2" lengthAdjust="spacingAndGlyphs" >-40</text>
<line x1="460.3" y1="462.3" x2="460.3" y2="466" stroke="#111" stroke-width="1.2" />
<text x="454.7" y="475.7" font-family="Liberation Sans" font-size="9.45" font-weight="bold" font-style="normal" fill="#111" textLength="11.2" lengthAdjust="spacingAndGlyphs" >-20</text>
<text x="366.2" y="489.3" font-family="Liberation Sans" font-size="10.17" font-weight="bold" font-style="normal" fill="#111" textLength="54.6" lengthAdjust="spacingAndGlyphs" >Voltage (mV)</text>
<text transform="translate(288.1 455.6) rotate(-90)" x="0" y="0" font-family="Liberation Sans" font-size="11.34" font-weight="bold" fill="#111" textLength="111.7" lengthAdjust="spacingAndGlyphs">Normalized Current</text>
<path d="M317.9 459.81 L318.57 459.81 L319.24 459.81 L319.91 459.81 L320.58 459.81 L321.25 459.8 L321.92 459.8 L322.59 459.8 L323.26 459.8 L323.93 459.8 L324.6 459.8 L325.27 459.8 L325.94 459.8 L326.61 459.8 L327.28 459.8 L327.95 459.8 L328.62 459.8 L329.29 459.79 L329.97 459.79 L330.64 459.79 L331.31 459.79 L331.98 459.79 L332.65 459.79 L333.32 459.79 L333.99 459.78 L334.66 459.78 L335.33 459.78 L336 459.78 L336.67 459.77 L337.34 459.77 L338.01 459.77 L338.68 459.77 L339.35 459.76 L340.02 459.76 L340.69 459.76 L341.36 459.75 L342.03 459.75 L342.7 459.75 L343.37 459.74 L344.04 459.74 L344.71 459.73 L345.38 459.73 L346.05 459.72 L346.72 459.71 L347.39 459.71 L348.06 459.7 L348.73 459.69 L349.4 459.69 L350.07 459.68 L350.74 459.67 L351.41 459.66 L352.08 459.65 L352.76 459.64 L353.43 459.63 L354.1 459.61 L354.77 459.6 L355.44 459.59 L356.11 459.57 L356.78 459.56 L357.45 459.54 L358.12 459.52 L358.79 459.5 L359.46 459.48 L360.13 459.46 L360.8 459.44 L361.47 459.42 L362.14 459.39 L362.81 459.36 L363.48 459.34 L364.15 459.3 L364.82 459.27 L365.49 459.24 L366.16 459.2 L366.83 459.16 L367.5 459.12 L368.17 459.07 L368.84 459.02 L369.51 458.97 L370.18 458.92 L370.85 458.86 L371.52 458.8 L372.19 458.74 L372.86 458.67 L373.53 458.59 L374.2 458.52 L374.87 458.43 L375.55 458.34 L376.22 458.25 L376.89 458.15 L377.56 458.04 L378.23 457.93 L378.9 457.81 L379.57 457.69 L380.24 457.55 L380.91 457.41 L381.58 457.25 L382.25 457.09 L382.92 456.92 L383.59 456.74 L384.26 456.54 L384.93 456.34 L385.6 456.12 L386.27 455.89 L386.94 455.64 L387.61 455.38 L388.28 455.11 L388.95 454.82 L389.62 454.51 L390.29 454.18 L390.96 453.84 L391.63 453.47 L392.3 453.08 L392.97 452.67 L393.64 452.24 L394.31 451.79 L394.98 451.3 L395.65 450.8 L396.32 450.26 L396.99 449.7 L397.66 449.1 L398.34 448.47 L399.01 447.82 L399.68 447.12 L400.35 446.4 L401.02 445.64 L401.69 444.84 L402.36 444 L403.03 443.12 L403.7 442.21 L404.37 441.25 L405.04 440.25 L405.71 439.21 L406.38 438.12 L407.05 437 L407.72 435.83 L408.39 434.61 L409.06 433.35 L409.73 432.05 L410.4 430.7 L411.07 429.32 L411.74 427.89 L412.41 426.41 L413.08 424.9 L413.75 423.36 L414.42 421.77 L415.09 420.15 L415.76 418.5 L416.43 416.82 L417.1 415.11 L417.77 413.38 L418.44 411.63 L419.11 409.86 L419.78 408.07 L420.45 406.27 L421.13 404.46 L421.8 402.65 L422.47 400.84 L423.14 399.02 L423.81 397.22 L424.48 395.42 L425.15 393.64 L425.82 391.87 L426.49 390.12 L427.16 388.4 L427.83 386.7 L428.5 385.03 L429.17 383.39 L429.84 381.78 L430.51 380.2 L431.18 378.67 L431.85 377.17 L432.52 375.71 L433.19 374.29 L433.86 372.92 L434.53 371.58 L435.2 370.3 L435.87 369.05 L436.54 367.85 L437.21 366.69 L437.88 365.58 L438.55 364.5 L439.22 363.48 L439.89 362.49 L440.56 361.54 L441.23 360.64 L441.9 359.77 L442.57 358.95 L443.24 358.16 L443.92 357.41 L444.59 356.69 L445.26 356.01 L445.93 355.36 L446.6 354.75 L447.27 354.16 L447.94 353.61 L448.61 353.08 L449.28 352.58 L449.95 352.1 L450.62 351.65 L451.29 351.23 L451.96 350.83 L452.63 350.45 L453.3 350.09 L453.97 349.75 L454.64 349.43 L455.31 349.12 L455.98 348.84 L456.65 348.56 L457.32 348.31 L457.99 348.07 L458.66 347.84 L459.33 347.63 L460 347.43 L460.67 347.24 L461.34 347.06 L462.01 346.89 L462.68 346.73 L463.35 346.58 L464.02 346.44 L464.69 346.3 L465.36 346.18 L466.03 346.06 L466.71 345.95 L467.38 345.85 L468.05 345.75 L468.72 345.66 L469.39 345.57 L470.06 345.49 L470.73 345.41 L471.4 345.34 L472.07 345.27 L472.74 345.21 L473.41 345.15 L474.08 345.09 L474.75 345.04 L475.42 344.99 L476.09 344.94 L476.76 344.9 L477.43 344.86 L478.1 344.82" stroke="#777" stroke-width="1.1" fill="none" />
<path d="M317.9 459.81 L318.57 459.81 L319.24 459.81 L319.91 459.81 L320.58 459.81 L321.25 459.81 L321.92 459.81 L322.59 459.81 L323.26 459.81 L323.93 459.81 L324.6 459.81 L325.27 459.81 L325.94 459.81 L326.61 459.81 L327.28 459.81 L327.95 459.81 L328.62 459.81 L329.29 459.81 L329.97 459.81 L330.64 459.81 L331.31 459.81 L331.98 459.81 L332.65 459.81 L333.32 459.81 L333.99 459.81 L334.66 459.81 L335.33 459.81 L336 459.81 L336.67 459.81 L337.34 459.81 L338.01 459.81 L338.68 459.81 L339.35 459.81 L340.02 459.81 L340.69 459.81 L341.36 459.81 L342.03 459.81 L342.7 459.81 L343.37 459.81 L344.04 459.81 L344.71 459.81 L345.38 459.81 L346.05 459.81 L346.72 459.81 L347.39 459.81 L348.06 459.81 L348.73 459.81 L349.4 459.8 L350.07 459.8 L350.74 459.8 L351.41 459.8 L352.08 459.8 L352.76 459.8 L353.43 459.8 L354.1 459.8 L354.77 459.8 L355.44 459.8 L356.11 459.79 L356.78 459.79 L357.45 459.79 L358.12 459.79 L358.79 459.79 L359.46 459.79 L360.13 459.78 L360.8 459.78 L361.47 459.78 L362.14 459.78 L362.81 459.77 L363.48 459.77 L364.15 459.77 L364.82 459.76 L365.49 459.76 L366.16 459.75 L366.83 459.75 L367.5 459.74 L368.17 459.74 L368.84 459.73 L369.51 459.73 L370.18 459.72 L370.85 459.71 L371.52 459.7 L372.19 459.7 L372.86 459.69 L373.53 459.68 L374.2 459.67 L374.87 459.66 L375.55 459.64 L376.22 459.63 L376.89 459.61 L377.56 459.6 L378.23 459.58 L378.9 459.56 L379.57 459.54 L380.24 459.52 L380.91 459.5 L381.58 459.48 L382.25 459.45 L382.92 459.42 L383.59 459.39 L384.26 459.36 L384.93 459.32 L385.6 459.29 L386.27 459.24 L386.94 459.2 L387.61 459.15 L388.28 459.1 L388.95 459.04 L389.62 458.99 L390.29 458.92 L390.96 458.85 L391.63 458.78 L392.3 458.7 L392.97 458.61 L393.64 458.52 L394.31 458.42 L394.98 458.31 L395.65 458.19 L396.32 458.07 L396.99 457.93 L397.66 457.79 L398.34 457.63 L399.01 457.47 L399.68 457.29 L400.35 457.09 L401.02 456.89 L401.69 456.66 L402.36 456.42 L403.03 456.17 L403.7 455.89 L404.37 455.6 L405.04 455.28 L405.71 454.94 L406.38 454.57 L407.05 454.18 L407.72 453.77 L408.39 453.32 L409.06 452.84 L409.73 452.33 L410.4 451.79 L411.07 451.2 L411.74 450.58 L412.41 449.92 L413.08 449.22 L413.75 448.47 L414.42 447.68 L415.09 446.83 L415.76 445.94 L416.43 444.99 L417.1 443.99 L417.77 442.93 L418.44 441.81 L419.11 440.63 L419.78 439.4 L420.45 438.1 L421.13 436.73 L421.8 435.3 L422.47 433.81 L423.14 432.26 L423.81 430.64 L424.48 428.96 L425.15 427.22 L425.82 425.42 L426.49 423.57 L427.16 421.66 L427.83 419.7 L428.5 417.69 L429.17 415.64 L429.84 413.56 L430.51 411.44 L431.18 409.29 L431.85 407.12 L432.52 404.93 L433.19 402.74 L433.86 400.54 L434.53 398.34 L435.2 396.15 L435.87 393.98 L436.54 391.82 L437.21 389.7 L437.88 387.6 L438.55 385.54 L439.22 383.53 L439.89 381.56 L440.56 379.64 L441.23 377.77 L441.9 375.96 L442.57 374.2 L443.24 372.51 L443.92 370.88 L444.59 369.31 L445.26 367.81 L445.93 366.37 L446.6 364.99 L447.27 363.67 L447.94 362.42 L448.61 361.23 L449.28 360.1 L449.95 359.03 L450.62 358.01 L451.29 357.05 L451.96 356.15 L452.63 355.29 L453.3 354.49 L453.97 353.73 L454.64 353.02 L455.31 352.35 L455.98 351.72 L456.65 351.13 L457.32 350.57 L457.99 350.06 L458.66 349.57 L459.33 349.12 L460 348.69 L460.67 348.3 L461.34 347.93 L462.01 347.58 L462.68 347.26 L463.35 346.96 L464.02 346.68 L464.69 346.42 L465.36 346.17 L466.03 345.95 L466.71 345.74 L467.38 345.54 L468.05 345.36 L468.72 345.19 L469.39 345.03 L470.06 344.88 L470.73 344.75 L471.4 344.62 L472.07 344.5 L472.74 344.39 L473.41 344.29 L474.08 344.2 L474.75 344.11 L475.42 344.03 L476.09 343.95 L476.76 343.88 L477.43 343.81 L478.1 343.75" stroke="#000" stroke-width="1.3" fill="none" />
<line x1="415.8" y1="409.47" x2="415.8" y2="429.36" stroke="#808080" stroke-width="1.2" />
<line x1="413.2" y1="409.47" x2="418.4" y2="409.47" stroke="#808080" stroke-width="1.4" />
<line x1="413.2" y1="429.36" x2="418.4" y2="429.36" stroke="#808080" stroke-width="1.4" />
<circle cx="415.8" cy="419.42" r="2.4" fill="#808080" stroke="none" stroke-width="1"/>
<line x1="424.7" y1="387.35" x2="424.7" y2="404.75" stroke="#808080" stroke-width="1.2" />
<line x1="422.1" y1="387.35" x2="427.3" y2="387.35" stroke="#808080" stroke-width="1.4" />
<line x1="422.1" y1="404.75" x2="427.3" y2="404.75" stroke="#808080" stroke-width="1.4" />
<circle cx="424.7" cy="396.05" r="2.4" fill="#808080" stroke="none" stroke-width="1"/>
<line x1="433.6" y1="368.83" x2="433.6" y2="385.23" stroke="#808080" stroke-width="1.2" />
<line x1="431" y1="368.83" x2="436.2" y2="368.83" stroke="#808080" stroke-width="1.4" />
<line x1="431" y1="385.23" x2="436.2" y2="385.23" stroke="#808080" stroke-width="1.4" />
<circle cx="433.6" cy="377.03" r="2.4" fill="#808080" stroke="none" stroke-width="1"/>
<line x1="442.5" y1="354.78" x2="442.5" y2="364.72" stroke="#808080" stroke-width="1.2" />
<line x1="439.9" y1="354.78" x2="445.1" y2="354.78" stroke="#808080" stroke-width="1.4" />
<line x1="439.9" y1="364.72" x2="445.1" y2="364.72" stroke="#808080" stroke-width="1.4" />
<circle cx="442.5" cy="359.75" r="2.4" fill="#808080" stroke="none" stroke-width="1"/>
<line x1="451.4" y1="346.7" x2="451.4" y2="354.16" stroke="#808080" stroke-width="1.2" />
<line x1="448.8" y1="346.7" x2="454" y2="346.7" stroke="#808080" stroke-width="1.4" />
<line x1="448.8" y1="354.16" x2="454" y2="354.16" stroke="#808080" stroke-width="1.4" />
<circle cx="451.4" cy="350.43" r="2.4" fill="#808080" stroke="none" stroke-width="1"/>
<line x1="460.3" y1="343.59" x2="460.3" y2="348.57" stroke="#808080" stroke-width="1.2" />
<line x1="457.7" y1="343.59" x2="462.9" y2="343.59" stroke="#808080" stroke-width="1.4" />
<line x1="457.7" y1="348.57" x2="462.9" y2="348.57" stroke="#808080" stroke-width="1.4" />
<circle cx="460.3" cy="346.08" r="2.4" fill="#808080" stroke="none" stroke-width="1"/>
<line x1="469.2" y1="341.73" x2="469.2" y2="346.7" stroke="#808080" stroke-width="1.2" />
<line x1="466.6" y1="341.73" x2="471.8" y2="341.73" stroke="#808080" stroke-width="1.4" />
<line x1="466.6" y1="346.7" x2="471.8" y2="346.7" stroke="#808080" stroke-width="1.4" />
<circle cx="469.2" cy="344.22" r="2.4" fill="#808080" stroke="none" stroke-width="1"/>
<line x1="478.1" y1="347.32" x2="478.1" y2="352.29" stroke="#808080" stroke-width="1.2" />
<line x1="475.5" y1="347.32" x2="480.7" y2="347.32" stroke="#808080" stroke-width="1.4" />
<line x1="475.5" y1="352.29" x2="480.7" y2="352.29" stroke="#808080" stroke-width="1.4" />
<circle cx="478.1" cy="349.81" r="2.4" fill="#808080" stroke="none" stroke-width="1"/>
<rect x="315.4" y="456.07" width="5" height="5" fill="#000" stroke="none" stroke-width="1" />
<rect x="324.3" y="456.07" width="5" height="5" fill="#000" stroke="none" stroke-width="1" />
<rect x="333.2" y="456.07" width="5" height="5" fill="#000" stroke="none" stroke-width="1" />
<rect x="342.1" y="456.07" width="5" height="5" fill="#000" stroke="none" stroke-width="1" />
<rect x="351" y="456.07" width="5" height="5" fill="#000" stroke="none" stroke-width="1" />
<rect x="359.9" y="456.07" width="5" height="5" fill="#000" stroke="none" stroke-width="1" />
<rect x="368.8" y="456.07" width="5" height="5" fill="#000" stroke="none" stroke-width="1" />
<rect x="377.7" y="456.07" width="5" height="5" fill="#000" stroke="none" stroke-width="1" />
<rect x="386.6" y="456.07" width="5" height="5" fill="#000" stroke="none" stroke-width="1" />
<rect x="395.5" y="455.45" width="5" height="5" fill="#000" stroke="none" stroke-width="1" />
<rect x="404.4" y="451.72" width="5" height="5" fill="#000" stroke="none" stroke-width="1" />
<line x1="415.8" y1="441.79" x2="415.8" y2="448.01" stroke="#000" stroke-width="1.3" />
<line x1="413" y1="441.79" x2="418.6" y2="441.79" stroke="#000" stroke-width="1.6" />
<line x1="413" y1="448.01" x2="418.6" y2="448.01" stroke="#000" stroke-width="1.6" />
<rect x="413.3" y="442.4" width="5" height="5" fill="#000" stroke="none" stroke-width="1" />
<line x1="424.7" y1="418.17" x2="424.7" y2="429.36" stroke="#000" stroke-width="1.3" />
<line x1="421.9" y1="418.17" x2="427.5" y2="418.17" stroke="#000" stroke-width="1.6" />
<line x1="421.9" y1="429.36" x2="427.5" y2="429.36" stroke="#000" stroke-width="1.6" />
<rect x="422.2" y="421.27" width="5" height="5" fill="#000" stroke="none" stroke-width="1" />
<line x1="433.6" y1="394.56" x2="433.6" y2="408.23" stroke="#000" stroke-width="1.3" />
<line x1="430.8" y1="394.56" x2="436.4" y2="394.56" stroke="#000" stroke-width="1.6" />
<line x1="430.8" y1="408.23" x2="436.4" y2="408.23" stroke="#000" stroke-width="1.6" />
<rect x="431.1" y="398.89" width="5" height="5" fill="#000" stroke="none" stroke-width="1" />
<line x1="442.5" y1="363.48" x2="442.5" y2="378.4" stroke="#000" stroke-width="1.3" />
<line x1="439.7" y1="363.48" x2="445.3" y2="363.48" stroke="#000" stroke-width="1.6" />
<line x1="439.7" y1="378.4" x2="445.3" y2="378.4" stroke="#000" stroke-width="1.6" />
<rect x="440" y="368.44" width="5" height="5" fill="#000" stroke="none" stroke-width="1" />
<line x1="451.4" y1="351.42" x2="451.4" y2="360.13" stroke="#000" stroke-width="1.3" />
<line x1="448.6" y1="351.42" x2="454.2" y2="351.42" stroke="#000" stroke-width="1.6" />
<line x1="448.6" y1="360.13" x2="454.2" y2="360.13" stroke="#000" stroke-width="1.6" />
<rect x="448.9" y="353.27" width="5" height="5" fill="#000" stroke="none" stroke-width="1" />
<line x1="460.3" y1="343.59" x2="460.3" y2="348.57" stroke="#000" stroke-width="1.3" />
<line x1="457.5" y1="343.59" x2="463.1" y2="343.59" stroke="#000" stroke-width="1.6" />
<line x1="457.5" y1="348.57" x2="463.1" y2="348.57" stroke="#000" stroke-width="1.6" />
<rect x="457.8" y="343.58" width="5" height="5" fill="#000" stroke="none" stroke-width="1" />
<line x1="469.2" y1="342.35" x2="469.2" y2="346.08" stroke="#000" stroke-width="1.3" />
<line x1="466.4" y1="342.35" x2="472" y2="342.35" stroke="#000" stroke-width="1.6" />
<line x1="466.4" y1="346.08" x2="472" y2="346.08" stroke="#000" stroke-width="1.6" />
<rect x="466.7" y="341.72" width="5" height="5" fill="#000" stroke="none" stroke-width="1" />
<line x1="478.1" y1="344.22" x2="478.1" y2="349.19" stroke="#000" stroke-width="1.3" />
<line x1="475.3" y1="344.22" x2="480.9" y2="344.22" stroke="#000" stroke-width="1.6" />
<line x1="475.3" y1="349.19" x2="480.9" y2="349.19" stroke="#000" stroke-width="1.6" />
<rect x="475.6" y="344.2" width="5" height="5" fill="#000" stroke="none" stroke-width="1" />
<line x1="322" y1="347.4" x2="333" y2="347.4" stroke="#808080" stroke-width="1.2" />
<circle cx="327.6" cy="347.4" r="2.3" fill="#808080" stroke="none" stroke-width="1"/>
<text x="341.7" y="349.9" font-family="Liberation Sans" font-size="10.47" font-weight="bold" font-style="normal" fill="#111" textLength="57.3" lengthAdjust="spacingAndGlyphs" >CON1 (n=15)</text>
<line x1="322" y1="362.1" x2="333" y2="362.1" stroke="#000" stroke-width="1.2" />
<rect x="325.1" y="359.6" width="5" height="5" fill="#000" stroke="none" stroke-width="1" />
<text x="341.7" y="366.7" font-family="Liberation Sans" font-size="10.47" font-weight="bold" font-style="normal" fill="#111" textLength="52.1" lengthAdjust="spacingAndGlyphs" >BrS1 (n=21)</text>
<text x="533.4" y="303.4" font-family="Liberation Sans" font-size="13.95" font-weight="bold" font-style="normal" fill="#000" textLength="6.8" lengthAdjust="spacingAndGlyphs" >F</text>
<text x="573" y="319.7" font-family="Liberation Sans" font-size="10.61" font-weight="bold" font-style="normal" fill="#111" textLength="146.7" lengthAdjust="spacingAndGlyphs" >Recovery from inactivation</text>
<line x1="568.3" y1="335" x2="568.3" y2="457" stroke="#444" stroke-width="1.3" />
<line x1="565" y1="456.4" x2="738.9" y2="456.4" stroke="#444" stroke-width="1.3" />
<line x1="565" y1="456.4" x2="568.3" y2="456.4" stroke="#444" stroke-width="1.2" />
<text x="553" y="459.4" font-family="Liberation Sans" font-size="8.14" font-weight="bold" font-style="normal" fill="#333" textLength="10.5" lengthAdjust="spacingAndGlyphs" >0.0</text>
<line x1="565" y1="432.1" x2="568.3" y2="432.1" stroke="#444" stroke-width="1.2" />
<text x="553" y="435.1" font-family="Liberation Sans" font-size="8.14" font-weight="bold" font-style="normal" fill="#333" textLength="10.5" lengthAdjust="spacingAndGlyphs" >0.2</text>
<line x1="565" y1="407.8" x2="568.3" y2="407.8" stroke="#444" stroke-width="1.2" />
<text x="553" y="410.8" font-family="Liberation Sans" font-size="8.14" font-weight="bold" font-style="normal" fill="#333" textLength="10.5" lengthAdjust="spacingAndGlyphs" >0.4</text>
<line x1="565" y1="383.5" x2="568.3" y2="383.5" stroke="#444" stroke-width="1.2" />
<text x="553" y="386.5" font-family="Liberation Sans" font-size="8.14" font-weight="bold" font-style="normal" fill="#333" textLength="10.5" lengthAdjust="spacingAndGlyphs" >0.6</text>
<line x1="565" y1="359.2" x2="568.3" y2="359.2" stroke="#444" stroke-width="1.2" />
<text x="553" y="362.2" font-family="Liberation Sans" font-size="8.14" font-weight="bold" font-style="normal" fill="#333" textLength="10.5" lengthAdjust="spacingAndGlyphs" >0.8</text>
<line x1="565" y1="334.9" x2="568.3" y2="334.9" stroke="#444" stroke-width="1.2" />
<text x="553" y="337.9" font-family="Liberation Sans" font-size="8.14" font-weight="bold" font-style="normal" fill="#333" textLength="10.5" lengthAdjust="spacingAndGlyphs" >1.0</text>
<line x1="593.95" y1="456.4" x2="593.95" y2="458.6" stroke="#444" stroke-width="1" />
<line x1="604.3" y1="456.4" x2="604.3" y2="458.6" stroke="#444" stroke-width="1" />
<line x1="636.55" y1="456.4" x2="636.55" y2="458.6" stroke="#444" stroke-width="1" />
<line x1="646.9" y1="456.4" x2="646.9" y2="458.6" stroke="#444" stroke-width="1" />
<line x1="679.15" y1="456.4" x2="679.15" y2="458.6" stroke="#444" stroke-width="1" />
<line x1="689.5" y1="456.4" x2="689.5" y2="458.6" stroke="#444" stroke-width="1" />
<line x1="721.75" y1="456.4" x2="721.75" y2="458.6" stroke="#444" stroke-width="1" />
<line x1="732.1" y1="456.4" x2="732.1" y2="458.6" stroke="#444" stroke-width="1" />
<line x1="568.3" y1="456.4" x2="568.3" y2="460" stroke="#444" stroke-width="1.2" />
<text x="561.4" y="469" font-family="Liberation Sans" font-size="8.14" font-weight="bold" font-style="normal" fill="#333" textLength="13.8" lengthAdjust="spacingAndGlyphs" >0.1</text>
<line x1="610.9" y1="456.4" x2="610.9" y2="460" stroke="#444" stroke-width="1.2" />
<text x="608.5" y="469" font-family="Liberation Sans" font-size="8.14" font-weight="bold" font-style="normal" fill="#333" textLength="4.8" lengthAdjust="spacingAndGlyphs" >1</text>
<line x1="653.5" y1="456.4" x2="653.5" y2="460" stroke="#444" stroke-width="1.2" />
<text x="648.5" y="469" font-family="Liberation Sans" font-size="8.14" font-weight="bold" font-style="normal" fill="#333" textLength="10" lengthAdjust="spacingAndGlyphs" >10</text>
<line x1="696.1" y1="456.4" x2="696.1" y2="460" stroke="#444" stroke-width="1.2" />
<text x="689.2" y="469" font-family="Liberation Sans" font-size="8.14" font-weight="bold" font-style="normal" fill="#333" textLength="13.8" lengthAdjust="spacingAndGlyphs" >100</text>
<line x1="738.7" y1="456.4" x2="738.7" y2="460" stroke="#444" stroke-width="1.2" />
<text x="730.55" y="469" font-family="Liberation Sans" font-size="8.14" font-weight="bold" font-style="normal" fill="#333" textLength="16.3" lengthAdjust="spacingAndGlyphs" >1000</text>
<text x="602.9" y="482.6" font-family="Liberation Sans" font-size="10.17" font-weight="bold" font-style="normal" fill="#333" textLength="101.4" lengthAdjust="spacingAndGlyphs" >Interpulse Interval (ms)</text>
<text transform="translate(540.6 445.6) rotate(-90)" x="0" y="0" font-family="Liberation Sans" font-size="11.34" font-weight="bold" fill="#111" textLength="106.3" lengthAdjust="spacingAndGlyphs">Normalized Current</text>
<line x1="581.12" y1="453.73" x2="581.12" y2="456.77" stroke="#888" stroke-width="1.2" />
<line x1="578.62" y1="456.77" x2="583.62" y2="456.77" stroke="#888" stroke-width="1.5" />
<line x1="588.63" y1="453.73" x2="588.63" y2="456.77" stroke="#888" stroke-width="1.2" />
<line x1="586.13" y1="456.77" x2="591.13" y2="456.77" stroke="#888" stroke-width="1.5" />
<line x1="593.95" y1="453.73" x2="593.95" y2="456.77" stroke="#888" stroke-width="1.2" />
<line x1="591.45" y1="456.77" x2="596.45" y2="456.77" stroke="#888" stroke-width="1.5" />
<line x1="598.08" y1="453.73" x2="598.08" y2="456.77" stroke="#888" stroke-width="1.2" />
<line x1="595.58" y1="456.77" x2="600.58" y2="456.77" stroke="#888" stroke-width="1.5" />
<line x1="601.45" y1="453.73" x2="601.45" y2="456.77" stroke="#888" stroke-width="1.2" />
<line x1="598.95" y1="456.77" x2="603.95" y2="456.77" stroke="#888" stroke-width="1.5" />
<line x1="604.3" y1="453.73" x2="604.3" y2="456.77" stroke="#888" stroke-width="1.2" />
<line x1="601.8" y1="456.77" x2="606.8" y2="456.77" stroke="#888" stroke-width="1.5" />
<line x1="606.77" y1="453.73" x2="606.77" y2="456.77" stroke="#888" stroke-width="1.2" />
<line x1="604.27" y1="456.77" x2="609.27" y2="456.77" stroke="#888" stroke-width="1.5" />
<line x1="608.95" y1="453.73" x2="608.95" y2="456.77" stroke="#888" stroke-width="1.2" />
<line x1="606.45" y1="456.77" x2="611.45" y2="456.77" stroke="#888" stroke-width="1.5" />
<line x1="610.9" y1="453.73" x2="610.9" y2="456.77" stroke="#888" stroke-width="1.2" />
<line x1="608.4" y1="456.77" x2="613.4" y2="456.77" stroke="#888" stroke-width="1.5" />
<line x1="623.72" y1="453.36" x2="623.72" y2="456.41" stroke="#888" stroke-width="1.2" />
<line x1="621.22" y1="456.41" x2="626.22" y2="456.41" stroke="#888" stroke-width="1.5" />
<line x1="631.23" y1="449.11" x2="631.23" y2="452.15" stroke="#888" stroke-width="1.2" />
<line x1="628.73" y1="452.15" x2="633.73" y2="452.15" stroke="#888" stroke-width="1.5" />
<line x1="636.55" y1="445.46" x2="636.55" y2="448.51" stroke="#888" stroke-width="1.2" />
<line x1="634.05" y1="448.51" x2="639.05" y2="448.51" stroke="#888" stroke-width="1.5" />
<line x1="640.68" y1="443.4" x2="640.68" y2="446.44" stroke="#888" stroke-width="1.2" />
<line x1="638.18" y1="446.44" x2="643.18" y2="446.44" stroke="#888" stroke-width="1.5" />
<line x1="644.05" y1="440.6" x2="644.05" y2="443.65" stroke="#888" stroke-width="1.2" />
<line x1="641.55" y1="443.65" x2="646.55" y2="443.65" stroke="#888" stroke-width="1.5" />
<line x1="646.9" y1="438.54" x2="646.9" y2="441.58" stroke="#888" stroke-width="1.2" />
<line x1="644.4" y1="441.58" x2="649.4" y2="441.58" stroke="#888" stroke-width="1.5" />
<line x1="649.37" y1="434.61" x2="649.37" y2="437.65" stroke="#888" stroke-width="1.2" />
<line x1="646.87" y1="437.65" x2="651.87" y2="437.65" stroke="#888" stroke-width="1.5" />
<line x1="651.55" y1="431.14" x2="651.55" y2="434.18" stroke="#888" stroke-width="1.2" />
<line x1="649.05" y1="434.18" x2="654.05" y2="434.18" stroke="#888" stroke-width="1.5" />
<line x1="653.5" y1="428.04" x2="653.5" y2="431.08" stroke="#888" stroke-width="1.2" />
<line x1="651" y1="431.08" x2="656" y2="431.08" stroke="#888" stroke-width="1.5" />
<line x1="655.26" y1="425.23" x2="655.26" y2="428.28" stroke="#888" stroke-width="1.2" />
<line x1="652.76" y1="428.28" x2="657.76" y2="428.28" stroke="#888" stroke-width="1.5" />
<line x1="656.87" y1="422.67" x2="656.87" y2="425.71" stroke="#888" stroke-width="1.2" />
<line x1="654.37" y1="425.71" x2="659.37" y2="425.71" stroke="#888" stroke-width="1.5" />
<line x1="658.35" y1="420.31" x2="658.35" y2="423.36" stroke="#888" stroke-width="1.2" />
<line x1="655.85" y1="423.36" x2="660.85" y2="423.36" stroke="#888" stroke-width="1.5" />
<line x1="659.73" y1="418.13" x2="659.73" y2="421.17" stroke="#888" stroke-width="1.2" />
<line x1="657.23" y1="421.17" x2="662.23" y2="421.17" stroke="#888" stroke-width="1.5" />
<line x1="661" y1="416.1" x2="661" y2="419.14" stroke="#888" stroke-width="1.2" />
<line x1="658.5" y1="419.14" x2="663.5" y2="419.14" stroke="#888" stroke-width="1.5" />
<line x1="662.2" y1="414.2" x2="662.2" y2="417.24" stroke="#888" stroke-width="1.2" />
<line x1="659.7" y1="417.24" x2="664.7" y2="417.24" stroke="#888" stroke-width="1.5" />
<line x1="663.32" y1="412.41" x2="663.32" y2="415.46" stroke="#888" stroke-width="1.2" />
<line x1="660.82" y1="415.46" x2="665.82" y2="415.46" stroke="#888" stroke-width="1.5" />
<line x1="664.37" y1="410.73" x2="664.37" y2="413.78" stroke="#888" stroke-width="1.2" />
<line x1="661.87" y1="413.78" x2="666.87" y2="413.78" stroke="#888" stroke-width="1.5" />
<line x1="665.37" y1="409.14" x2="665.37" y2="412.18" stroke="#888" stroke-width="1.2" />
<line x1="662.87" y1="412.18" x2="667.87" y2="412.18" stroke="#888" stroke-width="1.5" />
<line x1="666.32" y1="407.63" x2="666.32" y2="410.67" stroke="#888" stroke-width="1.2" />
<line x1="663.82" y1="410.67" x2="668.82" y2="410.67" stroke="#888" stroke-width="1.5" />
<line x1="667.23" y1="406.19" x2="667.23" y2="409.24" stroke="#888" stroke-width="1.2" />
<line x1="664.73" y1="409.24" x2="669.73" y2="409.24" stroke="#888" stroke-width="1.5" />
<line x1="668.09" y1="404.82" x2="668.09" y2="407.87" stroke="#888" stroke-width="1.2" />
<line x1="665.59" y1="407.87" x2="670.59" y2="407.87" stroke="#888" stroke-width="1.5" />
<line x1="668.91" y1="403.51" x2="668.91" y2="406.56" stroke="#888" stroke-width="1.2" />
<line x1="666.41" y1="406.56" x2="671.41" y2="406.56" stroke="#888" stroke-width="1.5" />
<line x1="669.7" y1="402.26" x2="669.7" y2="405.3" stroke="#888" stroke-width="1.2" />
<line x1="667.2" y1="405.3" x2="672.2" y2="405.3" stroke="#888" stroke-width="1.5" />
<line x1="670.45" y1="401.06" x2="670.45" y2="404.1" stroke="#888" stroke-width="1.2" />
<line x1="667.95" y1="404.1" x2="672.95" y2="404.1" stroke="#888" stroke-width="1.5" />
<line x1="671.18" y1="399.9" x2="671.18" y2="402.95" stroke="#888" stroke-width="1.2" />
<line x1="668.68" y1="402.95" x2="673.68" y2="402.95" stroke="#888" stroke-width="1.5" />
<line x1="673.83" y1="398.08" x2="673.83" y2="401.12" stroke="#888" stroke-width="1.2" />
<line x1="671.33" y1="401.12" x2="676.33" y2="401.12" stroke="#888" stroke-width="1.5" />
<line x1="679.15" y1="394.43" x2="679.15" y2="397.48" stroke="#888" stroke-width="1.2" />
<line x1="676.65" y1="397.48" x2="681.65" y2="397.48" stroke="#888" stroke-width="1.5" />
<line x1="683.28" y1="385.93" x2="683.28" y2="388.97" stroke="#888" stroke-width="1.2" />
<line x1="680.78" y1="388.97" x2="685.78" y2="388.97" stroke="#888" stroke-width="1.5" />
<line x1="686.65" y1="378.64" x2="686.65" y2="381.69" stroke="#888" stroke-width="1.2" />
<line x1="684.15" y1="381.69" x2="689.15" y2="381.69" stroke="#888" stroke-width="1.5" />
<line x1="689.5" y1="376.21" x2="689.5" y2="379.25" stroke="#888" stroke-width="1.2" />
<line x1="687" y1="379.25" x2="692" y2="379.25" stroke="#888" stroke-width="1.5" />
<line x1="691.97" y1="373.78" x2="691.97" y2="376.82" stroke="#888" stroke-width="1.2" />
<line x1="689.47" y1="376.82" x2="694.47" y2="376.82" stroke="#888" stroke-width="1.5" />
<line x1="694.15" y1="371.35" x2="694.15" y2="374.39" stroke="#888" stroke-width="1.2" />
<line x1="691.65" y1="374.39" x2="696.65" y2="374.39" stroke="#888" stroke-width="1.5" />
<line x1="696.1" y1="369.53" x2="696.1" y2="372.57" stroke="#888" stroke-width="1.2" />
<line x1="693.6" y1="372.57" x2="698.6" y2="372.57" stroke="#888" stroke-width="1.5" />
<line x1="708.92" y1="364.67" x2="708.92" y2="367.71" stroke="#888" stroke-width="1.2" />
<line x1="706.42" y1="367.71" x2="711.42" y2="367.71" stroke="#888" stroke-width="1.5" />
<line x1="716.43" y1="363.09" x2="716.43" y2="366.13" stroke="#888" stroke-width="1.2" />
<line x1="713.93" y1="366.13" x2="718.93" y2="366.13" stroke="#888" stroke-width="1.5" />
<line x1="721.75" y1="359.2" x2="721.75" y2="362.25" stroke="#888" stroke-width="1.2" />
<line x1="719.25" y1="362.25" x2="724.25" y2="362.25" stroke="#888" stroke-width="1.5" />
<line x1="723.93" y1="358.03" x2="723.93" y2="361.07" stroke="#888" stroke-width="1.2" />
<line x1="721.43" y1="361.07" x2="726.43" y2="361.07" stroke="#888" stroke-width="1.5" />
<line x1="725.88" y1="356.98" x2="725.88" y2="360.03" stroke="#888" stroke-width="1.2" />
<line x1="723.38" y1="360.03" x2="728.38" y2="360.03" stroke="#888" stroke-width="1.5" />
<line x1="727.64" y1="356.03" x2="727.64" y2="359.08" stroke="#888" stroke-width="1.2" />
<line x1="725.14" y1="359.08" x2="730.14" y2="359.08" stroke="#888" stroke-width="1.5" />
<line x1="729.25" y1="355.17" x2="729.25" y2="358.21" stroke="#888" stroke-width="1.2" />
<line x1="726.75" y1="358.21" x2="731.75" y2="358.21" stroke="#888" stroke-width="1.5" />
<line x1="730.73" y1="354.37" x2="730.73" y2="357.42" stroke="#888" stroke-width="1.2" />
<line x1="728.23" y1="357.42" x2="733.23" y2="357.42" stroke="#888" stroke-width="1.5" />
<line x1="732.1" y1="353.63" x2="732.1" y2="356.68" stroke="#888" stroke-width="1.2" />
<line x1="729.6" y1="356.68" x2="734.6" y2="356.68" stroke="#888" stroke-width="1.5" />
<line x1="733.38" y1="352.95" x2="733.38" y2="355.99" stroke="#888" stroke-width="1.2" />
<line x1="730.88" y1="355.99" x2="735.88" y2="355.99" stroke="#888" stroke-width="1.5" />
<line x1="734.57" y1="352.31" x2="734.57" y2="355.35" stroke="#888" stroke-width="1.2" />
<line x1="732.07" y1="355.35" x2="737.07" y2="355.35" stroke="#888" stroke-width="1.5" />
<line x1="735.69" y1="351.7" x2="735.69" y2="354.75" stroke="#888" stroke-width="1.2" />
<line x1="733.19" y1="354.75" x2="738.19" y2="354.75" stroke="#888" stroke-width="1.5" />
<line x1="736.75" y1="351.14" x2="736.75" y2="354.18" stroke="#888" stroke-width="1.2" />
<line x1="734.25" y1="354.18" x2="739.25" y2="354.18" stroke="#888" stroke-width="1.5" />
<line x1="737.75" y1="350.6" x2="737.75" y2="353.64" stroke="#888" stroke-width="1.2" />
<line x1="735.25" y1="353.64" x2="740.25" y2="353.64" stroke="#888" stroke-width="1.5" />
<line x1="738.7" y1="350.09" x2="738.7" y2="353.13" stroke="#888" stroke-width="1.2" />
<line x1="736.2" y1="353.13" x2="741.2" y2="353.13" stroke="#888" stroke-width="1.5" />
<path d="M581.12 454.82 L581.65 454.82 L582.18 454.82 L582.7 454.81 L583.23 454.81 L583.76 454.8 L584.29 454.79 L584.81 454.78 L585.34 454.77 L585.87 454.76 L586.39 454.75 L586.92 454.73 L587.45 454.71 L587.98 454.7 L588.5 454.68 L589.03 454.66 L589.56 454.63 L590.08 454.61 L590.61 454.59 L591.14 454.56 L591.66 454.54 L592.19 454.51 L592.72 454.48 L593.25 454.45 L593.77 454.42 L594.3 454.39 L594.83 454.36 L595.35 454.32 L595.88 454.29 L596.41 454.25 L596.93 454.22 L597.46 454.18 L597.99 454.14 L598.52 454.1 L599.04 454.06 L599.57 454.02 L600.1 453.98 L600.62 453.94 L601.15 453.89 L601.68 453.85 L602.2 453.81 L602.73 453.76 L603.26 453.72 L603.79 453.67 L604.31 453.62 L604.84 453.58 L605.37 453.53 L605.89 453.48 L606.42 453.43 L606.95 453.38 L607.47 453.33 L608 453.28 L608.53 453.23 L609.06 453.18 L609.58 453.13 L610.11 453.08 L610.64 453.02 L611.16 452.97 L611.69 452.91 L612.22 452.85 L612.74 452.79 L613.27 452.72 L613.8 452.64 L614.33 452.56 L614.85 452.48 L615.38 452.39 L615.91 452.3 L616.43 452.21 L616.96 452.11 L617.49 452.01 L618.01 451.91 L618.54 451.8 L619.07 451.69 L619.6 451.57 L620.12 451.45 L620.65 451.33 L621.18 451.21 L621.7 451.08 L622.23 450.95 L622.76 450.82 L623.28 450.68 L623.81 450.54 L624.34 450.4 L624.87 450.23 L625.39 450.06 L625.92 449.87 L626.45 449.68 L626.97 449.47 L627.5 449.26 L628.03 449.04 L628.55 448.81 L629.08 448.59 L629.61 448.36 L630.14 448.13 L630.66 447.9 L631.19 447.67 L631.72 447.44 L632.24 447.22 L632.77 447 L633.3 446.78 L633.82 446.56 L634.35 446.34 L634.88 446.12 L635.41 445.89 L635.93 445.65 L636.46 445.41 L636.99 445.16 L637.51 444.89 L638.04 444.62 L638.57 444.33 L639.1 444.03 L639.62 443.72 L640.15 443.39 L640.68 443.04 L641.2 442.65 L641.73 442.23 L642.26 441.77 L642.78 441.27 L643.31 440.74 L643.84 440.18 L644.37 439.59 L644.89 438.98 L645.42 438.35 L645.95 437.71 L646.47 437.05 L647 436.38 L647.53 435.7 L648.05 435.02 L648.58 434.34 L649.11 433.65 L649.64 432.97 L650.16 432.27 L650.69 431.53 L651.22 430.78 L651.74 430 L652.27 429.21 L652.8 428.4 L653.32 427.57 L653.85 426.74 L654.38 425.89 L654.91 425.05 L655.43 424.2 L655.96 423.35 L656.49 422.5 L657.01 421.66 L657.54 420.83 L658.07 420.01 L658.59 419.2 L659.12 418.4 L659.65 417.63 L660.18 416.87 L660.7 416.13 L661.23 415.39 L661.76 414.65 L662.28 413.92 L662.81 413.2 L663.34 412.48 L663.86 411.77 L664.39 411.06 L664.92 410.35 L665.45 409.64 L665.97 408.93 L666.5 408.21 L667.03 407.5 L667.55 406.78 L668.08 406.06 L668.61 405.34 L669.13 404.61 L669.66 403.88 L670.19 403.15 L670.72 402.42 L671.24 401.68 L671.77 400.95 L672.3 400.21 L672.82 399.48 L673.35 398.74 L673.88 398.01 L674.4 397.27 L674.93 396.53 L675.46 395.8 L675.99 395.07 L676.51 394.34 L677.04 393.61 L677.57 392.88 L678.09 392.15 L678.62 391.42 L679.15 390.68 L679.67 389.94 L680.2 389.18 L680.73 388.43 L681.26 387.67 L681.78 386.92 L682.31 386.16 L682.84 385.41 L683.36 384.67 L683.89 383.94 L684.42 383.21 L684.94 382.5 L685.47 381.81 L686 381.13 L686.53 380.47 L687.05 379.83 L687.58 379.22 L688.11 378.61 L688.63 378.01 L689.16 377.4 L689.69 376.81 L690.22 376.22 L690.74 375.64 L691.27 375.07 L691.8 374.51 L692.32 373.97 L692.85 373.45 L693.38 372.95 L693.9 372.47 L694.43 372.01 L694.96 371.58 L695.49 371.18 L696.01 370.8 L696.54 370.45 L697.07 370.12 L697.59 369.81 L698.12 369.5 L698.65 369.22 L699.17 368.94 L699.7 368.67 L700.23 368.41 L700.76 368.16 L701.28 367.92 L701.81 367.68 L702.34 367.45 L702.86 367.22 L703.39 366.99 L703.92 366.76 L704.44 366.54 L704.97 366.31 L705.5 366.08 L706.03 365.85 L706.55 365.62 L707.08 365.38 L707.61 365.13 L708.13 364.88 L708.66 364.61 L709.19 364.34 L709.71 364.07 L710.24 363.8 L710.77 363.52 L711.3 363.24 L711.82 362.96 L712.35 362.67 L712.88 362.39 L713.4 362.1 L713.93 361.82 L714.46 361.53 L714.98 361.24 L715.51 360.96 L716.04 360.67 L716.57 360.39 L717.09 360.11 L717.62 359.83 L718.15 359.55 L718.67 359.28 L719.2 359 L719.73 358.73 L720.25 358.47 L720.78 358.21 L721.31 357.95 L721.84 357.7 L722.36 357.45 L722.89 357.2 L723.42 356.96 L723.94 356.71 L724.47 356.47 L725 356.22 L725.52 355.98 L726.05 355.74 L726.58 355.5 L727.11 355.26 L727.63 355.03 L728.16 354.79 L728.69 354.56 L729.21 354.33 L729.74 354.1 L730.27 353.87 L730.79 353.64 L731.32 353.42 L731.85 353.2 L732.38 352.97 L732.9 352.75 L733.43 352.53 L733.96 352.32 L734.48 352.1 L735.01 351.89 L735.54 351.68 L736.06 351.47 L736.59 351.26 L737.12 351.06 L737.65 350.85 L738.17 350.65 L738.7 350.45" stroke="#a0a0a0" stroke-width="1.4" fill="none" />
<rect x="579.02" y="451.63" width="4.2" height="4.2" fill="#f4f4f4" stroke="#7a7a7a" stroke-width="1.2" />
<rect x="586.53" y="451.63" width="4.2" height="4.2" fill="#f4f4f4" stroke="#7a7a7a" stroke-width="1.2" />
<rect x="591.85" y="451.63" width="4.2" height="4.2" fill="#f4f4f4" stroke="#7a7a7a" stroke-width="1.2" />
<rect x="595.98" y="451.63" width="4.2" height="4.2" fill="#f4f4f4" stroke="#7a7a7a" stroke-width="1.2" />
<rect x="599.35" y="451.63" width="4.2" height="4.2" fill="#f4f4f4" stroke="#7a7a7a" stroke-width="1.2" />
<rect x="602.2" y="451.63" width="4.2" height="4.2" fill="#f4f4f4" stroke="#7a7a7a" stroke-width="1.2" />
<rect x="604.67" y="451.63" width="4.2" height="4.2" fill="#f4f4f4" stroke="#7a7a7a" stroke-width="1.2" />
<rect x="606.85" y="451.63" width="4.2" height="4.2" fill="#f4f4f4" stroke="#7a7a7a" stroke-width="1.2" />
<rect x="608.8" y="451.63" width="4.2" height="4.2" fill="#f4f4f4" stroke="#7a7a7a" stroke-width="1.2" />
<rect x="621.62" y="451.26" width="4.2" height="4.2" fill="#f4f4f4" stroke="#7a7a7a" stroke-width="1.2" />
<rect x="629.13" y="447.01" width="4.2" height="4.2" fill="#f4f4f4" stroke="#7a7a7a" stroke-width="1.2" />
<rect x="634.45" y="443.36" width="4.2" height="4.2" fill="#f4f4f4" stroke="#7a7a7a" stroke-width="1.2" />
<rect x="638.58" y="441.3" width="4.2" height="4.2" fill="#f4f4f4" stroke="#7a7a7a" stroke-width="1.2" />
<rect x="641.95" y="438.5" width="4.2" height="4.2" fill="#f4f4f4" stroke="#7a7a7a" stroke-width="1.2" />
<rect x="644.8" y="436.44" width="4.2" height="4.2" fill="#f4f4f4" stroke="#7a7a7a" stroke-width="1.2" />
<rect x="647.27" y="432.51" width="4.2" height="4.2" fill="#f4f4f4" stroke="#7a7a7a" stroke-width="1.2" />
<rect x="649.45" y="429.04" width="4.2" height="4.2" fill="#f4f4f4" stroke="#7a7a7a" stroke-width="1.2" />
<rect x="651.4" y="425.94" width="4.2" height="4.2" fill="#f4f4f4" stroke="#7a7a7a" stroke-width="1.2" />
<rect x="653.16" y="423.13" width="4.2" height="4.2" fill="#f4f4f4" stroke="#7a7a7a" stroke-width="1.2" />
<rect x="654.77" y="420.57" width="4.2" height="4.2" fill="#f4f4f4" stroke="#7a7a7a" stroke-width="1.2" />
<rect x="656.25" y="418.21" width="4.2" height="4.2" fill="#f4f4f4" stroke="#7a7a7a" stroke-width="1.2" />
<rect x="657.63" y="416.03" width="4.2" height="4.2" fill="#f4f4f4" stroke="#7a7a7a" stroke-width="1.2" />
<rect x="658.9" y="414" width="4.2" height="4.2" fill="#f4f4f4" stroke="#7a7a7a" stroke-width="1.2" />
<rect x="660.1" y="412.1" width="4.2" height="4.2" fill="#f4f4f4" stroke="#7a7a7a" stroke-width="1.2" />
<rect x="661.22" y="410.31" width="4.2" height="4.2" fill="#f4f4f4" stroke="#7a7a7a" stroke-width="1.2" />
<rect x="662.27" y="408.63" width="4.2" height="4.2" fill="#f4f4f4" stroke="#7a7a7a" stroke-width="1.2" />
<rect x="663.27" y="407.04" width="4.2" height="4.2" fill="#f4f4f4" stroke="#7a7a7a" stroke-width="1.2" />
<rect x="664.22" y="405.53" width="4.2" height="4.2" fill="#f4f4f4" stroke="#7a7a7a" stroke-width="1.2" />
<rect x="665.13" y="404.09" width="4.2" height="4.2" fill="#f4f4f4" stroke="#7a7a7a" stroke-width="1.2" />
<rect x="665.99" y="402.72" width="4.2" height="4.2" fill="#f4f4f4" stroke="#7a7a7a" stroke-width="1.2" />
<rect x="666.81" y="401.41" width="4.2" height="4.2" fill="#f4f4f4" stroke="#7a7a7a" stroke-width="1.2" />
<rect x="667.6" y="400.16" width="4.2" height="4.2" fill="#f4f4f4" stroke="#7a7a7a" stroke-width="1.2" />
<rect x="668.35" y="398.96" width="4.2" height="4.2" fill="#f4f4f4" stroke="#7a7a7a" stroke-width="1.2" />
<rect x="669.08" y="397.8" width="4.2" height="4.2" fill="#f4f4f4" stroke="#7a7a7a" stroke-width="1.2" />
<rect x="671.73" y="395.98" width="4.2" height="4.2" fill="#f4f4f4" stroke="#7a7a7a" stroke-width="1.2" />
<rect x="677.05" y="392.33" width="4.2" height="4.2" fill="#f4f4f4" stroke="#7a7a7a" stroke-width="1.2" />
<rect x="681.18" y="383.83" width="4.2" height="4.2" fill="#f4f4f4" stroke="#7a7a7a" stroke-width="1.2" />
<rect x="684.55" y="376.54" width="4.2" height="4.2" fill="#f4f4f4" stroke="#7a7a7a" stroke-width="1.2" />
<rect x="687.4" y="374.11" width="4.2" height="4.2" fill="#f4f4f4" stroke="#7a7a7a" stroke-width="1.2" />
<rect x="689.87" y="371.68" width="4.2" height="4.2" fill="#f4f4f4" stroke="#7a7a7a" stroke-width="1.2" />
<rect x="692.05" y="369.25" width="4.2" height="4.2" fill="#f4f4f4" stroke="#7a7a7a" stroke-width="1.2" />
<rect x="694" y="367.43" width="4.2" height="4.2" fill="#f4f4f4" stroke="#7a7a7a" stroke-width="1.2" />
<rect x="706.82" y="362.57" width="4.2" height="4.2" fill="#f4f4f4" stroke="#7a7a7a" stroke-width="1.2" />
<rect x="714.33" y="360.99" width="4.2" height="4.2" fill="#f4f4f4" stroke="#7a7a7a" stroke-width="1.2" />
<rect x="719.65" y="357.1" width="4.2" height="4.2" fill="#f4f4f4" stroke="#7a7a7a" stroke-width="1.2" />
<rect x="721.83" y="355.93" width="4.2" height="4.2" fill="#f4f4f4" stroke="#7a7a7a" stroke-width="1.2" />
<rect x="723.78" y="354.88" width="4.2" height="4.2" fill="#f4f4f4" stroke="#7a7a7a" stroke-width="1.2" />
<rect x="725.54" y="353.93" width="4.2" height="4.2" fill="#f4f4f4" stroke="#7a7a7a" stroke-width="1.2" />
<rect x="727.15" y="353.07" width="4.2" height="4.2" fill="#f4f4f4" stroke="#7a7a7a" stroke-width="1.2" />
<rect x="728.63" y="352.27" width="4.2" height="4.2" fill="#f4f4f4" stroke="#7a7a7a" stroke-width="1.2" />
<rect x="730" y="351.53" width="4.2" height="4.2" fill="#f4f4f4" stroke="#7a7a7a" stroke-width="1.2" />
<rect x="731.28" y="350.85" width="4.2" height="4.2" fill="#f4f4f4" stroke="#7a7a7a" stroke-width="1.2" />
<rect x="732.47" y="350.21" width="4.2" height="4.2" fill="#f4f4f4" stroke="#7a7a7a" stroke-width="1.2" />
<rect x="733.59" y="349.6" width="4.2" height="4.2" fill="#f4f4f4" stroke="#7a7a7a" stroke-width="1.2" />
<rect x="734.65" y="349.04" width="4.2" height="4.2" fill="#f4f4f4" stroke="#7a7a7a" stroke-width="1.2" />
<rect x="735.65" y="348.5" width="4.2" height="4.2" fill="#f4f4f4" stroke="#7a7a7a" stroke-width="1.2" />
<rect x="736.6" y="347.99" width="4.2" height="4.2" fill="#f4f4f4" stroke="#7a7a7a" stroke-width="1.2" />
<path d="M581.12 453.36 L581.65 453.35 L582.18 453.33 L582.7 453.32 L583.23 453.3 L583.76 453.27 L584.29 453.25 L584.81 453.22 L585.34 453.19 L585.87 453.16 L586.39 453.13 L586.92 453.09 L587.45 453.06 L587.98 453.02 L588.5 452.98 L589.03 452.93 L589.56 452.89 L590.08 452.84 L590.61 452.8 L591.14 452.75 L591.66 452.7 L592.19 452.65 L592.72 452.6 L593.25 452.54 L593.77 452.49 L594.3 452.44 L594.83 452.38 L595.35 452.32 L595.88 452.27 L596.41 452.21 L596.93 452.15 L597.46 452.09 L597.99 452.04 L598.52 451.98 L599.04 451.91 L599.57 451.85 L600.1 451.78 L600.62 451.7 L601.15 451.63 L601.68 451.55 L602.2 451.46 L602.73 451.38 L603.26 451.29 L603.79 451.2 L604.31 451.1 L604.84 451.01 L605.37 450.91 L605.89 450.8 L606.42 450.7 L606.95 450.59 L607.47 450.48 L608 450.37 L608.53 450.26 L609.06 450.14 L609.58 450.02 L610.11 449.9 L610.64 449.78 L611.16 449.65 L611.69 449.52 L612.22 449.39 L612.74 449.24 L613.27 449.1 L613.8 448.94 L614.33 448.78 L614.85 448.62 L615.38 448.45 L615.91 448.28 L616.43 448.1 L616.96 447.92 L617.49 447.73 L618.01 447.54 L618.54 447.34 L619.07 447.15 L619.6 446.94 L620.12 446.74 L620.65 446.53 L621.18 446.32 L621.7 446.1 L622.23 445.88 L622.76 445.64 L623.28 445.39 L623.81 445.13 L624.34 444.86 L624.87 444.58 L625.39 444.3 L625.92 444.02 L626.45 443.74 L626.97 443.46 L627.5 443.19 L628.03 442.93 L628.55 442.68 L629.08 442.43 L629.61 442.18 L630.14 441.93 L630.66 441.68 L631.19 441.43 L631.72 441.17 L632.24 440.91 L632.77 440.63 L633.3 440.35 L633.82 440.04 L634.35 439.73 L634.88 439.39 L635.41 439.03 L635.93 438.65 L636.46 438.24 L636.99 437.78 L637.51 437.28 L638.04 436.73 L638.57 436.15 L639.1 435.52 L639.62 434.87 L640.15 434.18 L640.68 433.46 L641.2 432.72 L641.73 431.96 L642.26 431.17 L642.78 430.37 L643.31 429.55 L643.84 428.72 L644.37 427.88 L644.89 427.03 L645.42 426.18 L645.95 425.33 L646.47 424.48 L647 423.63 L647.53 422.79 L648.05 421.96 L648.58 421.15 L649.11 420.34 L649.64 419.56 L650.16 418.76 L650.69 417.95 L651.22 417.13 L651.74 416.3 L652.27 415.46 L652.8 414.61 L653.32 413.76 L653.85 412.9 L654.38 412.03 L654.91 411.16 L655.43 410.29 L655.96 409.42 L656.49 408.54 L657.01 407.67 L657.54 406.8 L658.07 405.93 L658.59 405.07 L659.12 404.21 L659.65 403.35 L660.18 402.5 L660.7 401.66 L661.23 400.83 L661.76 400.01 L662.28 399.2 L662.81 398.4 L663.34 397.62 L663.86 396.85 L664.39 396.09 L664.92 395.34 L665.45 394.6 L665.97 393.87 L666.5 393.15 L667.03 392.43 L667.55 391.72 L668.08 391.02 L668.61 390.32 L669.13 389.62 L669.66 388.93 L670.19 388.24 L670.72 387.55 L671.24 386.87 L671.77 386.18 L672.3 385.5 L672.82 384.81 L673.35 384.12 L673.88 383.43 L674.4 382.73 L674.93 382.02 L675.46 381.3 L675.99 380.58 L676.51 379.85 L677.04 379.13 L677.57 378.4 L678.09 377.68 L678.62 376.97 L679.15 376.26 L679.67 375.57 L680.2 374.89 L680.73 374.23 L681.26 373.59 L681.78 372.97 L682.31 372.37 L682.84 371.8 L683.36 371.26 L683.89 370.74 L684.42 370.24 L684.94 369.75 L685.47 369.27 L686 368.8 L686.53 368.35 L687.05 367.91 L687.58 367.47 L688.11 367.05 L688.63 366.63 L689.16 366.22 L689.69 365.81 L690.22 365.41 L690.74 365.02 L691.27 364.63 L691.8 364.24 L692.32 363.85 L692.85 363.47 L693.38 363.09 L693.9 362.7 L694.43 362.32 L694.96 361.94 L695.49 361.57 L696.01 361.19 L696.54 360.82 L697.07 360.45 L697.59 360.08 L698.12 359.71 L698.65 359.35 L699.17 358.99 L699.7 358.63 L700.23 358.28 L700.76 357.93 L701.28 357.59 L701.81 357.25 L702.34 356.92 L702.86 356.58 L703.39 356.26 L703.92 355.94 L704.44 355.62 L704.97 355.31 L705.5 355.01 L706.03 354.71 L706.55 354.42 L707.08 354.13 L707.61 353.85 L708.13 353.58 L708.66 353.31 L709.19 353.05 L709.71 352.8 L710.24 352.56 L710.77 352.32 L711.3 352.08 L711.82 351.85 L712.35 351.63 L712.88 351.41 L713.4 351.19 L713.93 350.98 L714.46 350.77 L714.98 350.56 L715.51 350.36 L716.04 350.15 L716.57 349.95 L717.09 349.74 L717.62 349.54 L718.15 349.34 L718.67 349.13 L719.2 348.93 L719.73 348.72 L720.25 348.51 L720.78 348.3 L721.31 348.08 L721.84 347.86 L722.36 347.64 L722.89 347.42 L723.42 347.2 L723.94 346.98 L724.47 346.76 L725 346.54 L725.52 346.32 L726.05 346.1 L726.58 345.87 L727.11 345.65 L727.63 345.43 L728.16 345.21 L728.69 344.99 L729.21 344.76 L729.74 344.54 L730.27 344.32 L730.79 344.09 L731.32 343.87 L731.85 343.65 L732.38 343.42 L732.9 343.2 L733.43 342.98 L733.96 342.75 L734.48 342.53 L735.01 342.31 L735.54 342.08 L736.06 341.86 L736.59 341.63 L737.12 341.41 L737.65 341.18 L738.17 340.96 L738.7 340.73" stroke="#000" stroke-width="1.4" fill="none" />
<line x1="581.12" y1="446.67" x2="581.12" y2="450.32" stroke="#000" stroke-width="1.4" />
<line x1="578.42" y1="446.67" x2="583.82" y2="446.67" stroke="#000" stroke-width="1.9" />
<circle cx="581.12" cy="450.32" r="2.35" fill="#000" stroke="none" stroke-width="1"/>
<line x1="588.63" y1="446.67" x2="588.63" y2="450.32" stroke="#000" stroke-width="1.4" />
<line x1="585.93" y1="446.67" x2="591.33" y2="446.67" stroke="#000" stroke-width="1.9" />
<circle cx="588.63" cy="450.32" r="2.35" fill="#000" stroke="none" stroke-width="1"/>
<line x1="593.95" y1="446.67" x2="593.95" y2="450.32" stroke="#000" stroke-width="1.4" />
<line x1="591.25" y1="446.67" x2="596.65" y2="446.67" stroke="#000" stroke-width="1.9" />
<circle cx="593.95" cy="450.32" r="2.35" fill="#000" stroke="none" stroke-width="1"/>
<line x1="598.08" y1="446.67" x2="598.08" y2="450.32" stroke="#000" stroke-width="1.4" />
<line x1="595.38" y1="446.67" x2="600.78" y2="446.67" stroke="#000" stroke-width="1.9" />
<circle cx="598.08" cy="450.32" r="2.35" fill="#000" stroke="none" stroke-width="1"/>
<line x1="601.45" y1="446.67" x2="601.45" y2="450.32" stroke="#000" stroke-width="1.4" />
<line x1="598.75" y1="446.67" x2="604.15" y2="446.67" stroke="#000" stroke-width="1.9" />
<circle cx="601.45" cy="450.32" r="2.35" fill="#000" stroke="none" stroke-width="1"/>
<line x1="604.3" y1="446.67" x2="604.3" y2="450.32" stroke="#000" stroke-width="1.4" />
<line x1="601.6" y1="446.67" x2="607" y2="446.67" stroke="#000" stroke-width="1.9" />
<circle cx="604.3" cy="450.32" r="2.35" fill="#000" stroke="none" stroke-width="1"/>
<line x1="606.77" y1="446.67" x2="606.77" y2="450.32" stroke="#000" stroke-width="1.4" />
<line x1="604.07" y1="446.67" x2="609.47" y2="446.67" stroke="#000" stroke-width="1.9" />
<circle cx="606.77" cy="450.32" r="2.35" fill="#000" stroke="none" stroke-width="1"/>
<line x1="608.95" y1="446.67" x2="608.95" y2="450.32" stroke="#000" stroke-width="1.4" />
<line x1="606.25" y1="446.67" x2="611.65" y2="446.67" stroke="#000" stroke-width="1.9" />
<circle cx="608.95" cy="450.32" r="2.35" fill="#000" stroke="none" stroke-width="1"/>
<line x1="610.9" y1="446.67" x2="610.9" y2="450.32" stroke="#000" stroke-width="1.4" />
<line x1="608.2" y1="446.67" x2="613.6" y2="446.67" stroke="#000" stroke-width="1.9" />
<circle cx="610.9" cy="450.32" r="2.35" fill="#000" stroke="none" stroke-width="1"/>
<line x1="636.55" y1="436.33" x2="636.55" y2="439.99" stroke="#000" stroke-width="1.4" />
<line x1="633.85" y1="436.33" x2="639.25" y2="436.33" stroke="#000" stroke-width="1.9" />
<circle cx="636.55" cy="439.99" r="2.35" fill="#000" stroke="none" stroke-width="1"/>
<line x1="640.68" y1="431.63" x2="640.68" y2="435.29" stroke="#000" stroke-width="1.4" />
<line x1="637.98" y1="431.63" x2="643.38" y2="431.63" stroke="#000" stroke-width="1.9" />
<circle cx="640.68" cy="435.29" r="2.35" fill="#000" stroke="none" stroke-width="1"/>
<line x1="644.05" y1="426.55" x2="644.05" y2="430.21" stroke="#000" stroke-width="1.4" />
<line x1="641.35" y1="426.55" x2="646.75" y2="426.55" stroke="#000" stroke-width="1.9" />
<circle cx="644.05" cy="430.21" r="2.35" fill="#000" stroke="none" stroke-width="1"/>
<line x1="646.9" y1="421.96" x2="646.9" y2="425.61" stroke="#000" stroke-width="1.4" />
<line x1="644.2" y1="421.96" x2="649.6" y2="421.96" stroke="#000" stroke-width="1.9" />
<circle cx="646.9" cy="425.61" r="2.35" fill="#000" stroke="none" stroke-width="1"/>
<line x1="649.37" y1="418.12" x2="649.37" y2="421.77" stroke="#000" stroke-width="1.4" />
<line x1="646.67" y1="418.12" x2="652.07" y2="418.12" stroke="#000" stroke-width="1.9" />
<circle cx="649.37" cy="421.77" r="2.35" fill="#000" stroke="none" stroke-width="1"/>
<line x1="651.55" y1="414.77" x2="651.55" y2="418.42" stroke="#000" stroke-width="1.4" />
<line x1="648.85" y1="414.77" x2="654.25" y2="414.77" stroke="#000" stroke-width="1.9" />
<circle cx="651.55" cy="418.42" r="2.35" fill="#000" stroke="none" stroke-width="1"/>
<line x1="653.5" y1="411.64" x2="653.5" y2="415.29" stroke="#000" stroke-width="1.4" />
<line x1="650.8" y1="411.64" x2="656.2" y2="411.64" stroke="#000" stroke-width="1.9" />
<circle cx="653.5" cy="415.29" r="2.35" fill="#000" stroke="none" stroke-width="1"/>
<line x1="655.26" y1="408.74" x2="655.26" y2="412.39" stroke="#000" stroke-width="1.4" />
<line x1="652.56" y1="408.74" x2="657.96" y2="408.74" stroke="#000" stroke-width="1.9" />
<circle cx="655.26" cy="412.39" r="2.35" fill="#000" stroke="none" stroke-width="1"/>
<line x1="656.87" y1="406.07" x2="656.87" y2="409.73" stroke="#000" stroke-width="1.4" />
<line x1="654.17" y1="406.07" x2="659.57" y2="406.07" stroke="#000" stroke-width="1.9" />
<circle cx="656.87" cy="409.73" r="2.35" fill="#000" stroke="none" stroke-width="1"/>
<line x1="658.35" y1="403.63" x2="658.35" y2="407.28" stroke="#000" stroke-width="1.4" />
<line x1="655.65" y1="403.63" x2="661.05" y2="403.63" stroke="#000" stroke-width="1.9" />
<circle cx="658.35" cy="407.28" r="2.35" fill="#000" stroke="none" stroke-width="1"/>
<line x1="659.73" y1="401.4" x2="659.73" y2="405.05" stroke="#000" stroke-width="1.4" />
<line x1="657.03" y1="401.4" x2="662.43" y2="401.4" stroke="#000" stroke-width="1.9" />
<circle cx="659.73" cy="405.05" r="2.35" fill="#000" stroke="none" stroke-width="1"/>
<line x1="661" y1="399.36" x2="661" y2="403.01" stroke="#000" stroke-width="1.4" />
<line x1="658.3" y1="399.36" x2="663.7" y2="399.36" stroke="#000" stroke-width="1.9" />
<circle cx="661" cy="403.01" r="2.35" fill="#000" stroke="none" stroke-width="1"/>
<line x1="662.2" y1="397.5" x2="662.2" y2="401.16" stroke="#000" stroke-width="1.4" />
<line x1="659.5" y1="397.5" x2="664.9" y2="397.5" stroke="#000" stroke-width="1.9" />
<circle cx="662.2" cy="401.16" r="2.35" fill="#000" stroke="none" stroke-width="1"/>
<line x1="663.32" y1="395.82" x2="663.32" y2="399.47" stroke="#000" stroke-width="1.4" />
<line x1="660.62" y1="395.82" x2="666.02" y2="395.82" stroke="#000" stroke-width="1.9" />
<circle cx="663.32" cy="399.47" r="2.35" fill="#000" stroke="none" stroke-width="1"/>
<line x1="664.37" y1="394.28" x2="664.37" y2="397.94" stroke="#000" stroke-width="1.4" />
<line x1="661.67" y1="394.28" x2="667.07" y2="394.28" stroke="#000" stroke-width="1.9" />
<circle cx="664.37" cy="397.94" r="2.35" fill="#000" stroke="none" stroke-width="1"/>
<line x1="665.37" y1="392.87" x2="665.37" y2="396.52" stroke="#000" stroke-width="1.4" />
<line x1="662.67" y1="392.87" x2="668.07" y2="392.87" stroke="#000" stroke-width="1.9" />
<circle cx="665.37" cy="396.52" r="2.35" fill="#000" stroke="none" stroke-width="1"/>
<line x1="666.32" y1="391.56" x2="666.32" y2="395.21" stroke="#000" stroke-width="1.4" />
<line x1="663.62" y1="391.56" x2="669.02" y2="391.56" stroke="#000" stroke-width="1.9" />
<circle cx="666.32" cy="395.21" r="2.35" fill="#000" stroke="none" stroke-width="1"/>
<line x1="667.23" y1="390.33" x2="667.23" y2="393.99" stroke="#000" stroke-width="1.4" />
<line x1="664.53" y1="390.33" x2="669.93" y2="390.33" stroke="#000" stroke-width="1.9" />
<circle cx="667.23" cy="393.99" r="2.35" fill="#000" stroke="none" stroke-width="1"/>
<line x1="668.09" y1="389.18" x2="668.09" y2="392.83" stroke="#000" stroke-width="1.4" />
<line x1="665.39" y1="389.18" x2="670.79" y2="389.18" stroke="#000" stroke-width="1.9" />
<circle cx="668.09" cy="392.83" r="2.35" fill="#000" stroke="none" stroke-width="1"/>
<line x1="673.83" y1="379.85" x2="673.83" y2="383.5" stroke="#000" stroke-width="1.4" />
<line x1="671.13" y1="379.85" x2="676.53" y2="379.85" stroke="#000" stroke-width="1.9" />
<circle cx="673.83" cy="383.5" r="2.35" fill="#000" stroke="none" stroke-width="1"/>
<line x1="679.15" y1="370.13" x2="679.15" y2="373.78" stroke="#000" stroke-width="1.4" />
<line x1="676.45" y1="370.13" x2="681.85" y2="370.13" stroke="#000" stroke-width="1.9" />
<circle cx="679.15" cy="373.78" r="2.35" fill="#000" stroke="none" stroke-width="1"/>
<line x1="683.28" y1="364.05" x2="683.28" y2="367.7" stroke="#000" stroke-width="1.4" />
<line x1="680.58" y1="364.05" x2="685.98" y2="364.05" stroke="#000" stroke-width="1.9" />
<circle cx="683.28" cy="367.7" r="2.35" fill="#000" stroke="none" stroke-width="1"/>
<line x1="686.65" y1="361.01" x2="686.65" y2="364.67" stroke="#000" stroke-width="1.4" />
<line x1="683.95" y1="361.01" x2="689.35" y2="361.01" stroke="#000" stroke-width="1.9" />
<circle cx="686.65" cy="364.67" r="2.35" fill="#000" stroke="none" stroke-width="1"/>
<line x1="689.5" y1="359.8" x2="689.5" y2="363.45" stroke="#000" stroke-width="1.4" />
<line x1="686.8" y1="359.8" x2="692.2" y2="359.8" stroke="#000" stroke-width="1.9" />
<circle cx="689.5" cy="363.45" r="2.35" fill="#000" stroke="none" stroke-width="1"/>
<line x1="691.97" y1="359.19" x2="691.97" y2="362.84" stroke="#000" stroke-width="1.4" />
<line x1="689.27" y1="359.19" x2="694.67" y2="359.19" stroke="#000" stroke-width="1.9" />
<circle cx="691.97" cy="362.84" r="2.35" fill="#000" stroke="none" stroke-width="1"/>
<line x1="694.15" y1="357.98" x2="694.15" y2="361.63" stroke="#000" stroke-width="1.4" />
<line x1="691.45" y1="357.98" x2="696.85" y2="357.98" stroke="#000" stroke-width="1.9" />
<circle cx="694.15" cy="361.63" r="2.35" fill="#000" stroke="none" stroke-width="1"/>
<line x1="696.1" y1="356.76" x2="696.1" y2="360.41" stroke="#000" stroke-width="1.4" />
<line x1="693.4" y1="356.76" x2="698.8" y2="356.76" stroke="#000" stroke-width="1.9" />
<circle cx="696.1" cy="360.41" r="2.35" fill="#000" stroke="none" stroke-width="1"/>
<line x1="708.92" y1="348.99" x2="708.92" y2="352.64" stroke="#000" stroke-width="1.4" />
<line x1="706.22" y1="348.99" x2="711.62" y2="348.99" stroke="#000" stroke-width="1.9" />
<circle cx="708.92" cy="352.64" r="2.35" fill="#000" stroke="none" stroke-width="1"/>
<line x1="716.43" y1="345.83" x2="716.43" y2="349.48" stroke="#000" stroke-width="1.4" />
<line x1="713.73" y1="345.83" x2="719.13" y2="345.83" stroke="#000" stroke-width="1.9" />
<circle cx="716.43" cy="349.48" r="2.35" fill="#000" stroke="none" stroke-width="1"/>
<line x1="719.28" y1="343.4" x2="719.28" y2="347.05" stroke="#000" stroke-width="1.4" />
<line x1="716.58" y1="343.4" x2="721.98" y2="343.4" stroke="#000" stroke-width="1.9" />
<circle cx="719.28" cy="347.05" r="2.35" fill="#000" stroke="none" stroke-width="1"/>
<line x1="721.75" y1="342.47" x2="721.75" y2="346.12" stroke="#000" stroke-width="1.4" />
<line x1="719.05" y1="342.47" x2="724.45" y2="342.47" stroke="#000" stroke-width="1.9" />
<circle cx="721.75" cy="346.12" r="2.35" fill="#000" stroke="none" stroke-width="1"/>
<line x1="723.93" y1="341.65" x2="723.93" y2="345.3" stroke="#000" stroke-width="1.4" />
<line x1="721.23" y1="341.65" x2="726.63" y2="341.65" stroke="#000" stroke-width="1.9" />
<circle cx="723.93" cy="345.3" r="2.35" fill="#000" stroke="none" stroke-width="1"/>
<line x1="725.88" y1="340.92" x2="725.88" y2="344.57" stroke="#000" stroke-width="1.4" />
<line x1="723.18" y1="340.92" x2="728.58" y2="340.92" stroke="#000" stroke-width="1.9" />
<circle cx="725.88" cy="344.57" r="2.35" fill="#000" stroke="none" stroke-width="1"/>
<line x1="727.64" y1="340.26" x2="727.64" y2="343.91" stroke="#000" stroke-width="1.4" />
<line x1="724.94" y1="340.26" x2="730.34" y2="340.26" stroke="#000" stroke-width="1.9" />
<circle cx="727.64" cy="343.91" r="2.35" fill="#000" stroke="none" stroke-width="1"/>
<line x1="729.25" y1="339.65" x2="729.25" y2="343.31" stroke="#000" stroke-width="1.4" />
<line x1="726.55" y1="339.65" x2="731.95" y2="339.65" stroke="#000" stroke-width="1.9" />
<circle cx="729.25" cy="343.31" r="2.35" fill="#000" stroke="none" stroke-width="1"/>
<line x1="730.73" y1="339.1" x2="730.73" y2="342.75" stroke="#000" stroke-width="1.4" />
<line x1="728.03" y1="339.1" x2="733.43" y2="339.1" stroke="#000" stroke-width="1.9" />
<circle cx="730.73" cy="342.75" r="2.35" fill="#000" stroke="none" stroke-width="1"/>
<line x1="732.1" y1="338.58" x2="732.1" y2="342.24" stroke="#000" stroke-width="1.4" />
<line x1="729.4" y1="338.58" x2="734.8" y2="338.58" stroke="#000" stroke-width="1.9" />
<circle cx="732.1" cy="342.24" r="2.35" fill="#000" stroke="none" stroke-width="1"/>
<line x1="733.38" y1="338.1" x2="733.38" y2="341.76" stroke="#000" stroke-width="1.4" />
<line x1="730.68" y1="338.1" x2="736.08" y2="338.1" stroke="#000" stroke-width="1.9" />
<circle cx="733.38" cy="341.76" r="2.35" fill="#000" stroke="none" stroke-width="1"/>
<line x1="734.57" y1="337.66" x2="734.57" y2="341.31" stroke="#000" stroke-width="1.4" />
<line x1="731.87" y1="337.66" x2="737.27" y2="337.66" stroke="#000" stroke-width="1.9" />
<circle cx="734.57" cy="341.31" r="2.35" fill="#000" stroke="none" stroke-width="1"/>
<line x1="735.69" y1="337.23" x2="735.69" y2="340.89" stroke="#000" stroke-width="1.4" />
<line x1="732.99" y1="337.23" x2="738.39" y2="337.23" stroke="#000" stroke-width="1.9" />
<circle cx="735.69" cy="340.89" r="2.35" fill="#000" stroke="none" stroke-width="1"/>
<line x1="736.75" y1="336.84" x2="736.75" y2="340.49" stroke="#000" stroke-width="1.4" />
<line x1="734.05" y1="336.84" x2="739.45" y2="336.84" stroke="#000" stroke-width="1.9" />
<circle cx="736.75" cy="340.49" r="2.35" fill="#000" stroke="none" stroke-width="1"/>
<line x1="737.75" y1="336.46" x2="737.75" y2="340.12" stroke="#000" stroke-width="1.4" />
<line x1="735.05" y1="336.46" x2="740.45" y2="336.46" stroke="#000" stroke-width="1.9" />
<circle cx="737.75" cy="340.12" r="2.35" fill="#000" stroke="none" stroke-width="1"/>
<line x1="738.7" y1="336.11" x2="738.7" y2="339.76" stroke="#000" stroke-width="1.4" />
<line x1="736" y1="336.11" x2="741.4" y2="336.11" stroke="#000" stroke-width="1.9" />
<circle cx="738.7" cy="339.76" r="2.35" fill="#000" stroke="none" stroke-width="1"/>
<line x1="589.3" y1="341.2" x2="600.2" y2="341.2" stroke="#000" stroke-width="1.2" />
<circle cx="594.8" cy="341.2" r="2.4" fill="#000" stroke="none" stroke-width="1"/>
<text x="605.1" y="344.9" font-family="Liberation Sans" font-size="10.17" font-weight="bold" font-style="normal" fill="#111" textLength="57.1" lengthAdjust="spacingAndGlyphs" >CON1 (n=14)</text>
<line x1="589.3" y1="359.1" x2="600.2" y2="359.1" stroke="#999" stroke-width="1.2" />
<rect x="592.4" y="356.7" width="4.8" height="4.8" fill="#999" stroke="none" stroke-width="1" />
<text x="605.1" y="362.4" font-family="Liberation Sans" font-size="10.17" font-weight="bold" font-style="normal" fill="#111" textLength="52" lengthAdjust="spacingAndGlyphs" >BrS1 (n=14)</text>
</svg>
</body></html>
